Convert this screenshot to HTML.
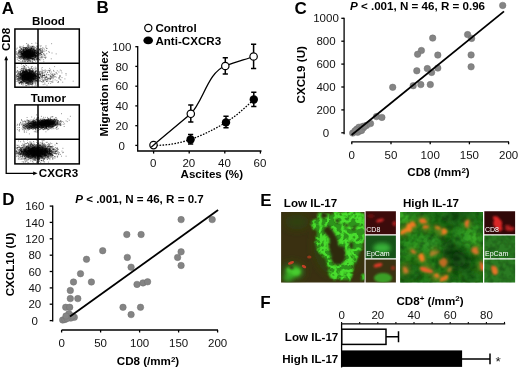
<!DOCTYPE html>
<html><head><meta charset="utf-8"><title>Figure</title>
<style>
html,body{margin:0;padding:0;background:#fff;}
body{width:520px;height:370px;overflow:hidden;}
svg{display:block;font-family:"Liberation Sans",sans-serif;}
text{opacity:.999}
.b{font-weight:bold}
.t{font-size:11.5px;fill:#111}
.l{font-size:11.6px;font-weight:bold;fill:#000}
.p{font-size:17px;font-weight:bold;fill:#000}
.ax{stroke:#000;stroke-width:1.3;fill:none}
.d{fill:#848484;stroke:#707070;stroke-width:.5}
</style></head><body>
<svg width="520" height="370" viewBox="0 0 520 370">
<rect width="520" height="370" fill="#fff"/>

<g id="panelA">
<text class="p" x="1.8" y="13.6">A</text>
<text class="l" x="48.5" y="24.7" text-anchor="middle">Blood</text>
<text class="l" x="48.3" y="102.2" text-anchor="middle">Tumor</text>
<text class="l" transform="translate(9.7,51) rotate(-90)">CD8</text>
<text class="l" x="38.8" y="177.4">CXCR3</text>
<defs><filter id="db" x="-5%" y="-5%" width="110%" height="110%"><feGaussianBlur stdDeviation="0.35"/></filter><radialGradient id="gb"><stop offset="0" stop-color="#000" stop-opacity="1"/><stop offset="0.45" stop-color="#000" stop-opacity="0.85"/><stop offset="0.75" stop-color="#000" stop-opacity="0.3"/><stop offset="1" stop-color="#000" stop-opacity="0"/></radialGradient></defs>
<ellipse cx="28.2" cy="53.9" rx="10.0" ry="6.6" transform="rotate(0.0 28.2 53.9)" fill="url(#gb)" opacity="0.85"/>
<ellipse cx="27.6" cy="76.4" rx="10.5" ry="7.6" transform="rotate(0.0 27.6 76.4)" fill="url(#gb)" opacity="0.90"/>
<path transform="scale(.1)" d="M271 554h0M272 530h0M241 533h0M331 552h0M328 546h0M299 545h0M209 565h0M304 554h0M208 487h0M243 525h0M295 538h0M305 520h0M296 551h0M253 591h0M306 575h0M255 517h0M267 536h0M310 546h0M262 510h0M259 576h0M246 546h0M301 494h0M284 578h0M193 529h0M277 514h0M304 537h0M218 564h0M311 567h0M345 550h0M287 500h0M309 521h0M262 501h0M239 523h0M339 478h0M218 546h0M346 556h0M198 463h0M298 517h0M233 568h0M330 544h0M293 552h0M352 558h0M305 555h0M213 577h0M324 555h0M195 520h0M319 485h0M274 570h0M224 587h0M306 534h0M296 558h0M287 573h0M253 527h0M328 540h0M243 567h0M346 526h0M221 535h0M275 530h0M344 508h0M337 501h0M247 558h0M332 565h0M297 543h0M289 556h0M274 547h0M307 539h0M316 556h0M370 549h0M263 528h0M281 567h0M267 551h0M363 462h0M233 546h0M300 546h0M263 559h0M294 523h0M389 550h0M258 536h0M272 537h0M162 524h0M326 504h0M279 568h0M320 584h0M207 528h0M267 558h0M330 459h0M330 496h0M312 494h0M290 575h0M275 545h0M317 543h0M278 585h0M328 530h0M403 505h0M322 531h0M288 560h0M292 558h0M215 494h0M309 510h0M237 495h0M338 561h0M347 511h0M282 505h0M316 587h0M243 586h0M325 534h0M195 581h0M278 521h0M300 551h0M348 508h0M332 584h0M346 534h0M249 570h0M287 543h0M345 531h0M181 527h0M200 564h0M296 521h0M282 564h0M285 579h0M279 570h0M348 587h0M252 565h0M199 506h0M196 571h0M228 539h0M274 538h0M256 546h0M361 540h0M305 569h0M273 501h0M258 571h0M210 521h0M326 563h0M282 563h0M289 504h0M213 520h0M323 522h0M242 516h0M215 535h0M230 550h0M178 549h0M254 481h0M314 531h0M184 513h0M295 525h0M316 561h0M311 549h0M341 559h0M302 476h0M321 578h0M269 525h0M367 486h0M303 612h0M241 560h0M365 535h0M307 566h0M242 536h0M295 564h0M280 533h0M237 528h0M321 542h0M244 514h0M399 573h0M310 461h0M309 553h0M356 552h0M279 555h0M196 570h0M296 518h0M340 593h0M220 519h0M295 545h0M264 510h0M375 570h0M229 499h0M357 569h0M362 563h0M244 547h0M187 517h0M279 555h0M250 535h0M302 550h0M310 545h0M268 563h0M284 514h0M254 539h0M277 544h0M282 544h0M276 501h0M301 571h0M301 533h0M302 510h0M199 541h0M241 561h0M234 460h0M236 586h0M265 498h0M248 555h0M304 544h0M347 560h0M281 557h0M355 568h0M327 507h0M275 561h0M269 571h0M308 566h0M273 615h0M337 533h0M286 617h0M267 565h0M325 539h0M231 545h0M298 573h0M316 540h0M320 555h0M291 541h0M271 560h0M236 520h0M282 495h0M263 479h0M252 556h0M307 537h0M272 496h0M362 554h0M330 513h0M274 484h0M316 567h0M199 537h0M310 486h0M202 507h0M254 497h0M283 546h0M310 560h0M348 574h0M224 524h0M235 507h0M278 539h0M304 491h0M228 538h0M273 530h0M279 516h0M313 550h0M278 519h0M274 457h0M239 540h0M216 545h0M288 498h0M271 530h0M302 557h0M280 513h0M276 537h0M314 548h0M250 498h0M266 517h0M233 536h0M260 542h0M305 527h0M384 529h0M330 543h0M331 468h0M249 546h0M309 609h0M296 577h0M316 567h0M304 534h0M304 507h0M334 508h0M293 603h0M272 540h0M333 540h0M246 547h0M308 560h0M248 592h0M355 540h0M294 526h0M344 518h0M312 525h0M251 561h0M341 539h0M252 563h0M280 548h0M349 573h0M259 608h0M282 563h0M254 538h0M205 593h0M342 503h0M216 490h0M334 525h0M279 530h0M277 506h0M283 496h0M279 548h0M303 532h0M242 544h0M261 586h0M316 536h0M261 518h0M241 528h0M295 554h0M307 602h0M251 539h0M405 483h0M259 544h0M289 551h0M271 550h0M284 562h0M199 512h0M282 508h0M236 558h0M253 558h0M315 548h0M304 536h0M220 538h0M302 523h0M278 561h0M243 558h0M364 522h0M288 534h0M350 548h0M322 518h0M281 539h0M204 582h0M322 487h0M315 535h0M302 550h0M216 533h0M348 522h0M237 498h0M228 549h0M356 552h0M293 606h0M259 519h0M305 555h0M237 504h0M295 546h0M224 533h0M258 553h0M277 536h0M266 571h0M343 528h0M319 516h0M285 561h0M349 528h0M279 545h0M216 539h0M252 550h0M232 480h0M284 547h0M258 566h0M270 521h0M303 492h0M252 538h0M319 534h0M296 519h0M295 589h0M252 610h0M254 540h0M290 570h0M228 476h0M309 563h0M309 618h0M291 547h0M323 550h0M355 502h0M265 436h0M318 528h0M323 604h0M282 531h0M260 514h0M254 558h0M284 541h0M274 566h0M304 535h0M311 534h0M231 583h0M302 510h0M329 549h0M213 587h0M297 566h0M291 535h0M214 568h0M283 530h0M297 541h0M312 528h0M280 475h0M263 559h0M341 528h0M277 587h0M268 561h0M356 540h0M336 518h0M291 537h0M287 573h0M387 519h0M257 554h0M236 554h0M307 531h0M305 493h0M315 493h0M251 522h0M264 565h0M286 527h0M306 586h0M282 550h0M337 547h0M226 614h0M379 479h0M280 552h0M324 559h0M270 507h0M287 570h0M234 508h0M281 481h0M271 526h0M302 518h0M243 527h0M280 519h0M283 562h0M334 590h0M248 526h0M173 596h0M250 538h0M305 498h0M302 538h0M202 548h0M335 483h0M318 545h0M303 552h0M339 532h0M320 527h0M314 515h0M277 591h0M302 534h0M232 515h0M291 567h0M301 555h0M280 580h0M265 523h0M321 541h0M270 522h0M271 558h0M298 503h0M301 544h0M238 562h0M270 529h0M317 579h0M252 552h0M243 608h0M260 575h0M254 563h0M380 463h0M263 554h0M278 519h0M377 541h0M210 565h0M206 574h0M257 543h0M337 543h0M221 488h0M334 561h0M246 565h0M304 558h0M183 530h0M322 561h0M321 465h0M289 554h0M394 510h0M268 540h0M321 526h0M332 515h0M294 523h0M289 518h0M212 572h0M295 522h0M291 569h0M239 536h0M306 555h0M267 476h0M337 549h0M283 531h0M294 526h0M237 517h0M256 521h0M231 558h0M224 559h0M237 550h0M342 545h0M250 540h0M289 487h0M255 544h0M261 541h0M314 562h0M322 557h0M269 538h0M270 530h0M274 487h0M267 538h0M239 538h0M305 534h0M373 461h0M273 484h0M325 619h0M172 543h0M305 530h0M306 472h0M319 550h0M283 521h0M310 524h0M292 524h0M183 538h0M291 562h0M243 538h0M309 543h0M337 599h0M242 481h0M320 585h0M323 563h0M255 518h0M321 512h0M202 509h0M392 597h0M252 517h0M292 517h0M340 537h0M234 578h0M256 546h0M281 530h0M296 518h0M201 473h0M226 516h0M281 541h0M306 543h0M247 518h0M189 534h0M303 555h0M277 534h0M323 539h0M314 556h0M291 578h0M257 528h0M246 515h0M350 592h0M283 556h0M334 563h0M335 501h0M254 553h0M345 542h0M244 528h0M253 513h0M348 520h0M283 604h0M334 549h0M255 551h0M353 558h0M338 542h0M305 533h0M301 578h0M219 537h0M293 522h0M268 563h0M370 558h0M296 492h0M367 541h0M281 505h0M279 506h0M285 553h0M283 547h0M245 582h0M253 484h0M274 516h0M238 528h0M295 504h0M276 582h0M312 534h0M288 535h0M280 561h0M278 467h0M281 512h0M311 521h0M289 604h0M236 505h0M220 467h0M199 550h0M254 483h0M217 558h0M248 528h0M297 580h0M367 570h0M288 545h0M361 582h0M268 553h0M295 541h0M260 499h0M259 493h0M336 555h0M229 581h0M321 482h0M363 563h0M373 502h0M305 552h0M291 544h0M328 494h0M227 497h0M257 521h0M298 547h0M283 519h0M263 568h0M316 542h0M268 586h0M256 558h0M333 531h0M318 506h0M327 545h0M212 559h0M243 577h0M252 534h0M294 529h0M293 522h0M312 539h0M291 456h0M333 540h0M204 542h0M303 571h0M234 585h0M275 611h0M276 559h0M266 506h0M330 566h0M350 565h0M257 489h0M253 519h0M246 556h0M296 531h0M290 535h0M291 562h0M324 518h0M216 582h0M287 572h0M210 529h0M283 496h0M259 561h0M329 587h0M244 497h0M305 567h0M290 500h0M316 563h0M306 524h0M295 563h0M257 484h0M296 553h0M283 566h0M256 537h0M269 556h0M352 531h0M372 585h0M317 557h0M360 534h0M277 507h0M303 579h0M305 552h0M273 544h0M219 570h0M264 506h0M249 514h0M320 571h0M222 567h0M321 522h0M217 517h0M254 549h0M266 478h0M292 493h0M322 503h0M252 513h0M258 578h0M319 557h0M296 493h0M259 522h0M239 554h0M249 518h0M236 477h0M308 579h0M290 510h0M163 544h0M336 548h0M323 583h0M332 526h0M328 562h0M214 527h0M219 536h0M307 507h0M192 578h0M299 583h0M224 571h0M373 599h0M273 547h0M275 569h0M328 542h0M222 561h0M261 558h0M294 588h0M332 525h0M297 592h0M258 552h0M334 577h0M305 499h0M227 546h0M299 615h0M244 573h0M316 489h0M246 544h0M260 534h0M303 515h0M303 520h0M258 555h0M257 548h0M352 540h0M276 561h0M266 571h0M226 558h0M259 515h0M360 513h0M359 559h0M346 510h0M335 583h0M277 535h0M390 544h0M263 520h0M302 549h0M290 591h0M268 553h0M346 509h0M328 594h0M222 506h0M236 484h0M302 483h0M304 583h0M211 530h0M198 562h0M250 531h0M284 555h0M267 539h0M258 542h0M230 541h0M197 524h0M366 541h0M227 547h0M239 489h0M250 561h0M299 536h0M241 507h0M341 546h0M240 476h0M222 613h0M231 537h0M291 534h0M270 498h0M236 590h0M249 564h0M207 531h0M293 570h0M233 557h0M299 517h0M303 512h0M247 538h0M163 536h0M238 495h0M263 562h0M264 577h0M231 500h0M350 551h0M324 514h0M317 547h0M311 540h0M335 520h0M240 495h0M333 517h0M236 511h0M262 501h0M269 520h0M258 510h0M284 525h0M287 546h0M297 473h0M258 515h0M316 492h0M251 530h0M267 569h0M263 568h0M218 485h0M336 552h0M303 543h0M303 503h0M324 523h0M325 542h0M195 500h0M332 535h0M265 546h0M263 523h0M287 543h0M349 540h0M365 593h0M358 571h0M288 543h0M276 517h0M279 520h0M354 555h0M262 482h0M280 527h0M234 505h0M183 556h0M279 616h0M281 535h0M346 543h0M289 528h0M255 584h0M326 590h0M267 540h0M243 568h0M221 556h0M330 581h0M241 572h0M251 516h0M224 574h0M355 521h0M249 529h0M392 569h0M258 485h0M252 575h0M364 531h0M252 524h0M199 566h0M234 571h0M207 501h0M295 516h0M316 539h0M230 558h0M319 482h0M362 554h0M315 483h0M250 529h0M329 495h0M243 478h0M271 549h0M208 521h0M304 587h0M311 530h0M230 511h0M253 543h0M280 589h0M295 507h0M350 567h0M286 517h0M200 508h0M322 515h0M224 545h0M293 557h0M311 581h0M245 568h0M239 560h0M290 546h0M325 538h0M331 565h0M288 522h0M249 523h0M273 538h0M413 558h0M316 513h0M251 529h0M290 508h0M353 522h0M329 469h0M282 547h0M290 557h0M294 544h0M199 518h0M179 558h0M296 533h0M246 522h0M363 591h0M279 578h0M212 481h0M261 513h0M257 545h0M415 519h0M284 547h0M280 567h0M360 502h0M289 531h0M298 493h0M205 470h0M305 545h0M285 468h0M266 516h0M220 512h0M313 555h0M281 554h0M255 541h0M284 556h0M279 535h0M276 520h0M380 554h0M301 608h0M344 492h0M313 564h0M365 578h0M316 504h0M244 547h0M304 508h0M265 527h0M285 549h0M269 502h0M337 587h0M277 570h0M302 559h0M303 516h0M307 569h0M243 598h0M374 594h0M370 561h0M267 521h0M246 542h0M281 559h0M193 608h0M382 538h0M312 553h0M294 533h0M277 514h0M290 538h0M296 513h0M284 540h0M309 507h0M300 568h0M308 528h0M260 532h0M314 586h0M275 520h0M299 545h0M242 517h0M278 559h0M230 508h0M304 502h0M287 550h0M277 508h0M279 529h0M297 514h0M330 489h0M274 539h0M324 521h0M306 522h0M314 591h0M264 552h0M241 568h0M335 540h0M232 551h0M333 572h0M318 484h0M252 582h0M228 573h0M365 562h0M331 529h0M228 536h0M273 538h0M313 535h0M290 552h0M282 594h0M301 542h0M273 520h0M341 544h0M235 522h0M276 526h0M330 504h0M304 543h0M230 540h0M278 554h0M262 548h0M209 506h0M317 570h0M281 521h0M330 476h0M247 559h0M311 508h0M199 583h0M289 512h0M284 566h0M168 572h0M315 477h0M316 486h0M332 551h0M381 521h0M282 570h0M254 518h0M266 537h0M234 554h0M306 541h0M357 529h0M339 523h0M315 481h0M291 534h0M265 516h0M274 512h0M163 516h0M262 519h0M232 534h0M342 529h0M265 591h0M354 574h0M364 527h0M287 581h0M262 534h0M318 553h0M278 576h0M284 567h0M359 564h0M339 495h0M216 515h0M324 596h0M222 551h0M244 511h0M278 565h0M308 584h0M236 573h0M351 542h0M324 518h0M230 524h0M256 649h0M266 602h0M307 551h0M340 509h0M350 553h0M204 562h0M328 556h0M390 523h0M326 567h0M241 585h0M208 490h0M326 498h0M288 476h0M299 496h0M316 481h0M322 529h0M299 536h0M303 489h0M239 522h0M321 464h0M249 516h0M232 551h0M287 508h0M236 570h0M255 561h0M322 467h0M230 539h0M316 569h0M343 578h0M273 531h0M342 523h0M358 479h0M334 532h0M177 576h0M314 540h0M230 521h0M386 508h0M223 534h0M271 504h0M244 579h0M208 613h0M262 497h0M342 560h0M232 567h0M185 504h0M363 529h0M217 559h0M350 538h0M187 526h0M320 568h0M406 529h0M266 538h0M367 503h0M373 435h0M343 513h0M323 565h0M224 536h0M309 561h0M239 501h0M180 635h0M283 531h0M205 574h0M263 594h0M346 540h0M339 497h0M275 517h0M219 540h0M286 594h0M240 521h0M320 554h0M297 521h0M325 553h0M184 529h0M213 494h0M304 541h0M302 506h0M283 504h0M318 565h0M400 587h0M247 522h0M239 551h0M414 566h0M163 491h0M217 559h0M295 550h0M402 508h0M244 614h0M316 509h0M173 481h0M298 577h0M287 513h0M251 611h0M189 546h0M297 562h0M271 558h0M344 533h0M268 532h0M237 531h0M277 547h0M375 589h0M268 562h0M313 568h0M296 549h0M267 509h0M347 588h0M335 556h0M311 522h0M188 564h0M307 518h0M237 588h0M187 606h0M333 629h0M252 538h0M265 545h0M282 511h0M359 509h0M265 560h0M263 522h0M316 525h0M220 535h0M282 604h0M229 576h0M248 525h0M275 549h0M347 605h0M257 590h0M355 570h0M249 573h0M289 552h0M279 564h0M362 582h0M283 577h0M382 503h0M383 488h0M328 562h0M384 550h0M266 509h0M220 568h0M281 512h0M327 510h0M269 522h0M394 595h0M286 479h0M312 542h0M316 560h0M276 574h0M345 547h0M271 521h0M337 497h0M285 511h0M211 562h0M293 540h0M347 482h0M291 550h0M345 498h0M338 547h0M376 582h0M328 621h0M295 523h0M275 503h0M293 468h0M290 555h0M354 526h0M378 514h0M287 468h0M249 509h0M383 559h0M230 559h0M323 530h0M296 528h0M263 473h0M290 587h0M379 529h0M251 531h0M348 552h0M261 552h0M283 558h0M271 484h0M298 567h0M230 535h0M346 525h0M257 614h0M344 577h0M240 599h0M198 520h0M338 588h0M241 514h0M306 468h0M332 560h0M269 559h0M340 550h0M325 595h0M267 545h0M265 577h0M271 556h0M303 541h0M395 536h0M377 569h0M372 533h0M349 567h0M259 549h0M288 538h0M371 513h0M197 475h0M269 515h0M296 560h0M397 550h0M322 512h0M329 589h0M373 467h0M347 597h0M343 484h0M277 561h0M319 509h0M244 574h0M218 591h0M296 550h0M218 517h0M335 485h0M415 488h0M224 541h0M323 566h0M274 531h0M281 518h0M309 545h0M259 548h0M294 536h0M359 476h0M310 500h0M277 594h0M233 535h0M261 574h0M239 478h0M325 526h0M277 578h0M244 525h0M304 554h0M265 577h0M424 524h0M403 462h0M376 526h0M303 527h0M258 492h0M272 586h0M361 526h0M265 513h0M226 605h0M333 543h0M267 502h0M371 567h0M240 575h0M231 562h0M240 524h0M324 555h0M353 508h0M386 588h0M294 556h0M250 533h0M219 542h0M306 588h0M350 569h0M274 531h0M275 547h0M184 567h0M205 520h0M296 520h0M391 535h0M386 582h0M266 554h0M370 527h0M300 519h0M298 526h0M300 576h0M375 544h0M307 570h0M278 500h0M359 505h0M349 504h0M400 501h0M344 594h0M240 593h0M248 475h0M337 565h0M283 447h0M292 528h0M273 528h0M192 518h0M399 595h0M274 513h0M318 578h0M337 496h0M304 544h0M378 583h0M325 583h0M272 595h0M270 553h0M348 506h0M255 475h0M304 537h0M276 557h0M173 538h0M300 529h0M341 603h0M269 505h0M260 542h0M329 508h0M353 502h0M343 555h0M322 618h0M280 533h0M322 570h0M218 549h0M252 562h0M374 541h0M289 546h0M327 545h0M272 512h0M285 583h0M289 588h0M311 539h0M199 515h0M367 492h0M238 499h0M263 562h0M329 465h0M379 517h0M261 600h0M290 494h0M258 512h0M237 527h0M346 552h0M215 641h0M238 543h0M297 567h0M276 556h0M416 542h0M233 551h0M249 526h0M306 551h0M279 570h0M284 491h0M346 526h0M365 515h0M328 550h0M231 590h0M186 572h0M358 557h0M334 521h0M294 547h0M319 565h0M283 513h0M263 554h0M199 493h0M271 519h0M279 442h0M275 530h0M340 467h0M277 556h0M323 583h0M356 501h0M332 527h0M249 595h0M259 508h0M271 508h0M353 553h0M376 554h0M260 577h0M257 522h0M285 540h0M364 517h0M315 538h0M222 499h0M282 554h0M314 557h0M298 523h0M320 502h0M217 527h0M212 520h0M252 519h0M292 510h0M271 476h0M303 507h0M318 435h0M249 548h0M300 543h0M208 547h0M304 503h0M338 537h0M296 523h0M327 543h0M361 556h0M259 531h0M348 526h0M317 558h0M285 454h0M303 547h0M303 511h0M365 534h0M259 513h0M316 499h0M237 612h0M371 578h0M374 561h0M197 583h0M367 557h0M181 585h0M374 521h0M302 568h0M290 579h0M300 564h0M300 485h0M237 656h0M311 587h0M361 602h0M327 517h0M411 458h0M401 557h0M305 532h0M450 571h0M365 502h0M319 489h0M436 597h0M354 573h0M431 508h0M516 437h0M407 533h0M513 588h0M520 530h0M458 573h0M435 538h0M401 511h0M350 593h0M388 452h0M423 524h0M419 589h0M405 516h0M374 524h0M389 532h0M562 539h0M368 593h0M452 554h0M445 554h0M443 574h0M459 572h0M386 525h0M375 559h0M450 509h0M438 617h0M470 486h0M406 547h0M408 539h0M467 537h0M357 550h0M405 529h0M382 477h0M349 513h0M358 430h0M466 484h0M375 544h0M293 572h0M373 548h0M387 536h0M415 525h0M321 473h0M408 574h0M383 544h0M418 542h0M458 472h0M423 519h0M395 495h0M372 489h0M357 613h0M493 525h0M446 491h0M274 461h0M417 575h0M408 490h0M398 490h0M342 517h0M391 497h0M367 492h0M422 574h0M400 603h0M331 535h0M354 519h0M415 545h0M465 506h0M349 518h0M424 500h0M454 584h0M341 538h0M460 458h0M420 517h0M341 571h0M421 508h0M432 548h0M447 545h0M430 484h0M389 530h0M275 600h0M392 488h0M321 534h0M412 505h0M390 494h0M373 522h0M379 549h0M403 530h0M430 570h0M439 533h0M402 497h0M393 549h0M421 511h0M345 471h0M426 561h0M428 477h0M400 533h0M365 537h0M400 496h0M349 553h0M427 494h0M361 556h0M439 514h0M488 515h0M359 563h0M401 537h0M278 731h0M223 758h0M339 731h0M337 771h0M226 773h0M301 734h0M181 776h0M226 779h0M190 759h0M240 715h0M265 770h0M251 725h0M286 706h0M300 780h0M351 793h0M292 773h0M277 720h0M341 781h0M263 726h0M342 782h0M223 786h0M361 763h0M294 750h0M248 799h0M414 768h0M270 790h0M262 788h0M313 730h0M228 762h0M313 773h0M331 719h0M298 743h0M280 775h0M233 756h0M224 773h0M238 748h0M286 742h0M327 743h0M314 773h0M230 757h0M239 752h0M264 824h0M257 816h0M296 721h0M173 786h0M187 788h0M322 777h0M267 756h0M288 754h0M252 752h0M328 744h0M293 726h0M244 719h0M267 786h0M290 748h0M303 753h0M293 773h0M300 682h0M218 789h0M271 838h0M266 746h0M343 782h0M360 781h0M267 788h0M241 749h0M251 757h0M311 748h0M290 748h0M315 673h0M267 770h0M228 797h0M286 806h0M319 785h0M269 728h0M266 749h0M287 749h0M412 711h0M328 749h0M265 794h0M276 724h0M294 758h0M185 771h0M229 740h0M297 774h0M263 835h0M295 744h0M287 760h0M178 712h0M214 832h0M268 755h0M251 796h0M277 820h0M311 818h0M271 776h0M257 758h0M199 745h0M234 743h0M330 773h0M330 792h0M317 797h0M249 790h0M262 747h0M329 835h0M233 821h0M313 736h0M288 776h0M293 752h0M219 765h0M314 790h0M305 800h0M232 763h0M291 797h0M283 781h0M282 833h0M179 763h0M386 772h0M195 768h0M212 742h0M286 820h0M297 786h0M321 771h0M238 761h0M291 755h0M246 752h0M209 730h0M272 752h0M278 810h0M289 763h0M224 729h0M293 735h0M295 729h0M282 762h0M320 751h0M260 772h0M278 819h0M265 746h0M262 780h0M286 787h0M215 845h0M357 763h0M222 769h0M294 691h0M277 716h0M296 809h0M322 715h0M337 794h0M260 780h0M343 753h0M275 746h0M327 694h0M339 732h0M317 711h0M235 744h0M313 711h0M303 743h0M331 754h0M298 758h0M355 752h0M275 829h0M279 786h0M243 771h0M176 767h0M247 715h0M213 801h0M295 714h0M356 741h0M260 772h0M226 711h0M243 803h0M318 712h0M329 765h0M298 766h0M294 731h0M236 741h0M260 784h0M222 816h0M248 745h0M307 778h0M261 729h0M232 712h0M327 799h0M359 780h0M291 789h0M318 756h0M292 834h0M201 718h0M233 789h0M329 753h0M306 762h0M289 746h0M275 764h0M326 837h0M196 781h0M276 796h0M323 790h0M312 733h0M200 819h0M330 733h0M333 786h0M167 793h0M232 802h0M246 740h0M208 757h0M321 742h0M194 834h0M358 787h0M252 724h0M203 782h0M334 729h0M276 755h0M265 780h0M369 743h0M314 800h0M263 759h0M217 799h0M252 743h0M279 736h0M230 754h0M342 757h0M299 716h0M190 824h0M258 714h0M271 784h0M199 735h0M288 734h0M311 796h0M296 750h0M274 743h0M270 774h0M263 796h0M391 746h0M291 791h0M305 756h0M255 797h0M304 781h0M240 785h0M311 758h0M305 835h0M193 784h0M224 719h0M266 782h0M278 726h0M212 746h0M277 737h0M209 822h0M239 759h0M252 745h0M278 754h0M304 725h0M210 828h0M273 789h0M329 782h0M278 713h0M205 796h0M306 783h0M202 694h0M229 725h0M283 730h0M347 743h0M251 792h0M291 734h0M313 827h0M221 756h0M228 700h0M304 787h0M319 778h0M186 763h0M246 725h0M227 789h0M263 829h0M297 701h0M316 805h0M277 724h0M355 721h0M272 701h0M220 708h0M325 803h0M258 719h0M273 777h0M208 726h0M271 787h0M279 779h0M220 682h0M290 734h0M270 751h0M298 738h0M341 765h0M300 785h0M323 777h0M197 743h0M360 780h0M301 780h0M247 741h0M247 802h0M292 823h0M298 827h0M297 725h0M354 775h0M330 771h0M261 770h0M225 724h0M236 747h0M215 761h0M290 832h0M359 762h0M316 757h0M294 763h0M252 767h0M209 779h0M263 728h0M260 783h0M245 780h0M302 816h0M227 760h0M299 814h0M288 789h0M210 744h0M351 754h0M374 740h0M263 711h0M305 773h0M368 770h0M265 717h0M272 796h0M310 805h0M315 762h0M303 770h0M216 821h0M293 729h0M294 774h0M321 813h0M346 732h0M191 773h0M291 776h0M226 748h0M285 789h0M376 774h0M249 685h0M325 760h0M271 731h0M309 704h0M281 768h0M290 808h0M271 767h0M315 712h0M263 766h0M320 737h0M313 777h0M208 714h0M211 769h0M285 788h0M313 745h0M325 792h0M298 780h0M217 776h0M229 724h0M260 769h0M274 753h0M230 770h0M242 716h0M280 813h0M257 728h0M339 822h0M263 757h0M282 798h0M296 702h0M226 722h0M296 768h0M358 755h0M290 767h0M282 842h0M289 814h0M335 743h0M307 751h0M281 769h0M277 748h0M347 755h0M308 821h0M305 799h0M340 801h0M355 716h0M366 765h0M196 742h0M212 763h0M208 730h0M290 769h0M239 756h0M271 767h0M276 756h0M316 710h0M253 769h0M258 745h0M256 771h0M333 758h0M264 776h0M265 698h0M288 751h0M250 785h0M278 745h0M176 706h0M277 760h0M296 772h0M254 721h0M226 759h0M223 790h0M215 703h0M267 704h0M351 730h0M274 756h0M238 704h0M190 793h0M323 838h0M209 783h0M275 793h0M252 789h0M317 785h0M343 758h0M347 740h0M353 671h0M277 737h0M276 799h0M309 767h0M354 714h0M239 815h0M291 693h0M292 724h0M344 803h0M251 808h0M238 795h0M303 760h0M211 754h0M171 745h0M191 805h0M232 681h0M303 777h0M253 836h0M312 766h0M246 664h0M298 797h0M249 716h0M274 707h0M276 790h0M345 773h0M285 789h0M340 753h0M220 737h0M218 734h0M270 776h0M283 766h0M260 778h0M317 790h0M345 754h0M264 822h0M285 778h0M261 797h0M257 730h0M273 749h0M314 751h0M282 757h0M292 743h0M327 716h0M258 740h0M306 765h0M298 753h0M243 726h0M261 746h0M289 776h0M321 760h0M242 728h0M279 776h0M366 770h0M357 828h0M228 805h0M328 810h0M276 796h0M254 762h0M277 825h0M266 796h0M279 740h0M287 786h0M243 786h0M243 734h0M286 756h0M231 709h0M277 772h0M255 770h0M206 777h0M295 773h0M248 767h0M282 800h0M289 773h0M243 793h0M330 747h0M305 774h0M274 720h0M357 701h0M290 751h0M329 750h0M278 785h0M297 746h0M307 777h0M321 747h0M274 751h0M238 773h0M295 812h0M261 777h0M328 760h0M279 769h0M244 730h0M327 770h0M273 722h0M281 804h0M223 734h0M327 812h0M347 745h0M304 739h0M300 752h0M285 809h0M292 756h0M279 773h0M253 771h0M303 817h0M182 724h0M219 794h0M388 771h0M282 802h0M164 758h0M253 748h0M292 744h0M327 764h0M293 850h0M256 795h0M238 806h0M320 769h0M321 818h0M339 764h0M274 801h0M209 744h0M298 783h0M361 823h0M291 779h0M216 758h0M288 756h0M279 784h0M233 745h0M195 803h0M228 707h0M311 757h0M320 752h0M373 788h0M283 768h0M267 791h0M367 750h0M226 784h0M325 714h0M245 731h0M302 781h0M243 726h0M307 695h0M305 759h0M363 797h0M250 755h0M263 740h0M280 796h0M208 756h0M344 789h0M239 737h0M237 710h0M328 766h0M244 716h0M259 747h0M354 749h0M281 800h0M306 758h0M177 811h0M303 749h0M272 732h0M235 714h0M299 781h0M284 790h0M300 768h0M236 784h0M330 785h0M332 748h0M232 806h0M250 772h0M267 765h0M264 746h0M195 828h0M285 700h0M235 726h0M243 679h0M302 819h0M265 789h0M303 722h0M331 708h0M250 752h0M333 768h0M270 737h0M280 765h0M309 810h0M309 765h0M269 817h0M285 763h0M357 816h0M302 760h0M247 800h0M256 796h0M241 767h0M294 769h0M287 777h0M225 727h0M269 824h0M270 733h0M246 765h0M329 745h0M301 770h0M260 733h0M269 740h0M300 705h0M327 789h0M302 814h0M303 707h0M278 779h0M245 726h0M295 781h0M257 756h0M253 745h0M273 800h0M204 753h0M348 775h0M283 792h0M231 724h0M202 716h0M287 792h0M257 741h0M294 784h0M288 701h0M252 680h0M287 736h0M247 814h0M335 780h0M288 770h0M250 762h0M362 735h0M246 769h0M316 792h0M233 760h0M264 723h0M279 748h0M317 778h0M241 767h0M260 743h0M254 799h0M258 707h0M241 791h0M372 729h0M260 753h0M213 777h0M274 773h0M376 755h0M312 792h0M248 744h0M346 788h0M282 728h0M316 781h0M374 813h0M312 773h0M279 746h0M290 772h0M305 800h0M290 746h0M312 815h0M239 778h0M301 782h0M299 761h0M271 820h0M353 718h0M163 778h0M246 747h0M205 776h0M274 746h0M316 844h0M342 803h0M258 786h0M274 802h0M302 763h0M301 740h0M311 814h0M260 782h0M202 795h0M315 730h0M354 768h0M199 719h0M315 755h0M325 713h0M272 796h0M246 786h0M260 775h0M290 838h0M221 790h0M335 727h0M280 840h0M323 666h0M265 708h0M290 740h0M251 736h0M289 749h0M236 757h0M294 736h0M326 709h0M294 751h0M346 743h0M246 720h0M365 784h0M228 753h0M233 814h0M295 697h0M285 794h0M276 780h0M271 771h0M286 741h0M292 769h0M274 741h0M231 772h0M313 684h0M252 809h0M317 740h0M336 731h0M241 828h0M257 757h0M202 731h0M223 759h0M194 799h0M260 744h0M248 789h0M345 751h0M348 817h0M336 774h0M209 786h0M258 770h0M192 755h0M286 733h0M289 819h0M286 741h0M383 693h0M235 778h0M250 688h0M288 792h0M240 813h0M298 803h0M208 764h0M348 831h0M335 764h0M284 743h0M325 741h0M282 696h0M209 823h0M279 771h0M178 763h0M369 714h0M169 759h0M252 757h0M220 719h0M221 785h0M274 791h0M228 784h0M256 767h0M318 765h0M260 709h0M279 790h0M248 762h0M196 720h0M294 807h0M262 708h0M259 712h0M264 828h0M289 759h0M323 751h0M291 771h0M296 715h0M308 793h0M173 674h0M236 814h0M277 787h0M301 794h0M247 744h0M293 784h0M302 775h0M254 801h0M297 800h0M161 798h0M166 771h0M246 768h0M254 754h0M285 776h0M240 679h0M241 782h0M238 778h0M259 732h0M329 820h0M271 762h0M319 719h0M236 802h0M317 747h0M241 776h0M212 747h0M265 681h0M303 790h0M324 716h0M218 737h0M217 833h0M232 753h0M285 779h0M342 727h0M316 769h0M223 769h0M212 819h0M243 798h0M335 743h0M235 768h0M228 794h0M284 738h0M245 788h0M210 821h0M240 757h0M234 819h0M314 808h0M306 767h0M354 786h0M296 784h0M310 773h0M268 710h0M370 720h0M177 740h0M365 805h0M248 773h0M275 697h0M261 774h0M330 723h0M173 711h0M291 767h0M283 769h0M259 718h0M297 777h0M303 806h0M219 685h0M194 837h0M234 778h0M275 789h0M424 746h0M268 744h0M287 782h0M231 809h0M329 779h0M271 756h0M200 786h0M231 747h0M322 733h0M252 793h0M361 741h0M327 742h0M294 780h0M224 799h0M359 766h0M288 724h0M358 766h0M217 790h0M209 741h0M178 811h0M378 742h0M246 744h0M250 783h0M343 730h0M296 703h0M346 761h0M244 816h0M271 811h0M325 820h0M239 766h0M293 757h0M346 740h0M322 810h0M186 731h0M234 745h0M294 758h0M280 748h0M272 780h0M310 737h0M271 738h0M268 715h0M320 787h0M270 741h0M255 741h0M205 820h0M427 722h0M222 784h0M304 711h0M188 782h0M184 812h0M253 767h0M276 745h0M269 754h0M333 761h0M275 746h0M247 739h0M276 826h0M327 772h0M353 798h0M286 758h0M226 772h0M261 710h0M217 830h0M286 781h0M285 748h0M297 801h0M262 781h0M323 748h0M284 739h0M304 751h0M329 738h0M354 753h0M237 733h0M306 735h0M359 808h0M300 716h0M275 739h0M193 778h0M377 746h0M313 808h0M232 752h0M288 780h0M223 771h0M271 796h0M203 745h0M253 753h0M309 743h0M402 740h0M315 799h0M320 757h0M238 755h0M307 768h0M303 784h0M235 732h0M342 747h0M203 827h0M238 732h0M321 726h0M236 800h0M238 849h0M280 855h0M282 766h0M247 756h0M253 763h0M312 721h0M234 693h0M345 761h0M275 762h0M322 775h0M315 758h0M270 762h0M190 801h0M203 730h0M307 766h0M313 822h0M362 811h0M266 834h0M236 761h0M322 757h0M270 752h0M339 680h0M335 800h0M273 783h0M231 802h0M417 733h0M340 762h0M260 747h0M267 721h0M214 821h0M275 783h0M290 780h0M206 732h0M305 798h0M223 744h0M227 786h0M292 765h0M246 776h0M277 739h0M291 741h0M320 785h0M244 784h0M279 740h0M234 707h0M224 776h0M332 743h0M283 776h0M312 779h0M332 790h0M241 777h0M168 758h0M277 784h0M262 792h0M337 735h0M251 773h0M299 769h0M314 724h0M312 804h0M327 779h0M265 778h0M273 710h0M248 763h0M252 732h0M265 751h0M279 762h0M284 798h0M282 778h0M220 664h0M258 787h0M260 743h0M219 794h0M252 772h0M328 782h0M379 759h0M320 788h0M246 766h0M250 729h0M290 738h0M353 739h0M251 767h0M252 766h0M248 716h0M165 720h0M346 779h0M283 748h0M269 774h0M212 737h0M235 807h0M227 804h0M255 857h0M272 765h0M338 794h0M319 728h0M328 821h0M271 748h0M226 799h0M290 764h0M219 819h0M316 763h0M344 732h0M317 730h0M341 755h0M332 750h0M294 803h0M235 767h0M237 793h0M248 751h0M267 804h0M228 763h0M261 745h0M240 759h0M285 711h0M287 724h0M277 842h0M231 762h0M264 797h0M254 703h0M202 770h0M288 800h0M251 787h0M227 808h0M273 741h0M284 823h0M237 722h0M229 725h0M274 776h0M268 771h0M331 754h0M218 686h0M287 741h0M265 778h0M297 711h0M232 767h0M269 803h0M253 694h0M330 708h0M231 777h0M227 849h0M287 782h0M256 839h0M301 740h0M334 707h0M249 774h0M282 731h0M349 814h0M233 777h0M247 749h0M321 768h0M283 768h0M214 815h0M241 819h0M260 745h0M387 772h0M248 742h0M329 843h0M330 747h0M217 736h0M282 774h0M247 818h0M228 734h0M322 784h0M265 804h0M198 833h0M432 846h0M298 847h0M293 820h0M277 772h0M324 691h0M276 836h0M350 778h0M303 822h0M312 685h0M229 752h0M299 745h0M283 834h0M351 789h0M291 767h0M314 774h0M243 797h0M236 762h0M267 716h0M329 761h0M214 761h0M201 824h0M324 847h0M253 794h0M227 728h0M284 781h0M350 753h0M362 804h0M233 757h0M231 835h0M254 801h0M349 753h0M258 778h0M240 711h0M227 778h0M302 838h0M172 785h0M215 812h0M335 769h0M385 748h0M256 720h0M248 769h0M334 818h0M273 734h0M268 746h0M260 747h0M234 762h0M257 757h0M200 770h0M327 791h0M255 716h0M206 715h0M248 751h0M176 792h0M191 735h0M243 799h0M409 749h0M272 748h0M277 757h0M449 719h0M283 731h0M313 742h0M327 719h0M426 773h0M176 793h0M260 716h0M318 742h0M338 741h0M348 770h0M313 771h0M267 749h0M319 793h0M264 857h0M399 716h0M360 761h0M305 731h0M396 730h0M285 734h0M414 816h0M205 745h0M313 746h0M267 719h0M306 719h0M269 832h0M314 736h0M268 724h0M297 793h0M350 753h0M213 761h0M397 776h0M286 678h0M262 787h0M229 820h0M254 728h0M253 760h0M354 741h0M176 761h0M323 828h0M218 825h0M333 783h0M241 728h0M229 803h0M304 808h0M406 765h0M287 843h0M207 746h0M266 749h0M299 730h0M364 708h0M238 695h0M200 788h0M330 756h0M344 790h0M253 763h0M313 847h0M262 779h0M325 814h0M317 808h0M222 753h0M166 762h0M439 774h0M296 775h0M299 710h0M246 757h0M301 729h0M283 734h0M206 737h0M239 799h0M376 788h0M276 741h0M190 743h0M390 812h0M304 754h0M290 782h0M290 782h0M241 766h0M268 808h0M211 817h0M285 744h0M291 769h0M275 782h0M253 695h0M334 763h0M396 780h0M162 815h0M246 787h0M432 809h0M220 761h0M187 792h0M326 722h0M319 803h0M342 737h0M246 718h0M207 777h0M293 818h0M308 751h0M199 828h0M301 763h0M226 721h0M330 725h0M327 790h0M266 698h0M316 822h0M237 713h0M360 770h0M250 814h0M272 783h0M264 734h0M304 729h0M177 742h0M369 809h0M429 805h0M393 775h0M262 783h0M229 794h0M261 775h0M236 759h0M353 756h0M247 776h0M346 757h0M215 701h0M205 808h0M284 784h0M358 776h0M321 744h0M187 790h0M284 788h0M222 759h0M418 730h0M296 818h0M275 770h0M262 817h0M284 749h0M318 755h0M257 827h0M353 769h0M342 798h0M327 766h0M295 781h0M326 779h0M255 761h0M319 725h0M289 795h0M301 753h0M289 745h0M353 749h0M184 716h0M309 773h0M260 712h0M281 731h0M248 765h0M241 777h0M243 746h0M276 824h0M390 803h0M243 765h0M348 797h0M186 762h0M243 795h0M331 743h0M426 753h0M445 758h0M285 841h0M257 746h0M384 763h0M320 714h0M404 804h0M313 793h0M258 746h0M190 779h0M369 799h0M349 793h0M231 712h0M331 771h0M353 754h0M234 783h0M255 699h0M251 729h0M219 743h0M350 859h0M400 748h0M363 762h0M316 738h0M285 698h0M404 734h0M327 741h0M307 718h0M266 801h0M328 687h0M344 712h0M308 785h0M249 752h0M274 781h0M348 819h0M311 844h0M230 836h0M273 795h0M282 768h0M232 780h0M419 771h0M289 765h0M335 757h0M290 773h0M373 803h0M223 739h0M291 799h0M352 756h0M425 758h0M379 822h0M392 773h0M327 704h0M177 740h0M336 807h0M283 806h0M327 825h0M189 732h0M229 723h0M395 728h0M237 749h0M346 746h0M337 787h0M249 670h0M232 715h0M394 736h0M222 780h0M293 727h0M360 801h0M308 734h0M234 683h0M314 780h0M231 766h0M499 720h0M181 789h0M263 745h0M330 759h0M353 785h0M364 769h0M182 806h0M306 709h0M294 800h0M225 766h0M243 725h0M251 815h0M334 763h0M285 770h0M308 772h0M181 801h0M235 661h0M335 716h0M281 761h0M252 786h0M273 753h0M229 753h0M224 766h0M374 805h0M317 710h0M356 802h0M422 675h0M291 751h0M359 721h0M266 857h0M354 685h0M291 819h0M251 788h0M296 706h0M250 810h0M366 740h0M362 736h0M306 764h0M210 777h0M265 655h0M237 730h0M237 725h0M246 666h0M347 767h0M306 754h0M294 754h0M220 704h0M295 805h0M305 829h0M203 754h0M251 814h0M398 743h0M337 755h0M226 760h0M223 826h0M328 812h0M313 667h0M341 768h0M355 833h0M225 796h0M311 757h0M272 785h0M327 791h0M264 711h0M374 816h0M254 763h0M342 694h0M322 861h0M307 736h0M421 765h0M304 747h0M302 692h0M208 705h0M348 760h0M364 682h0M252 823h0M239 689h0M242 750h0M289 817h0M375 827h0M327 744h0M258 705h0M371 815h0M296 728h0M333 784h0M300 717h0M305 741h0M337 788h0M318 747h0M387 795h0M371 798h0M332 780h0M222 691h0M230 789h0M348 771h0M296 838h0M265 692h0M191 751h0M335 794h0M276 797h0M287 735h0M266 794h0M351 719h0M227 769h0M426 717h0M210 781h0M322 739h0M288 784h0M179 763h0M328 801h0M364 761h0M198 818h0M339 738h0M356 806h0M281 669h0M260 734h0M237 761h0M221 780h0M410 716h0M356 743h0M325 759h0M372 735h0M337 733h0M305 763h0M359 701h0M204 820h0M315 832h0M224 773h0M328 835h0M287 746h0M336 760h0M242 795h0M169 723h0M377 744h0M269 779h0M361 785h0M229 741h0M357 759h0M250 799h0M363 852h0M222 736h0M246 778h0M260 809h0M249 753h0M326 772h0M226 824h0M327 744h0M303 719h0M212 752h0M313 768h0M241 708h0M184 828h0M313 732h0M365 786h0M264 739h0M362 777h0M394 779h0M253 740h0M245 774h0M306 788h0M319 722h0M277 726h0M321 711h0M253 729h0M251 754h0M386 754h0M199 752h0M337 786h0M305 844h0M360 768h0M367 710h0M279 729h0M301 829h0M259 828h0M225 821h0M183 730h0M353 760h0M299 763h0M301 757h0M228 752h0M297 728h0M320 835h0M186 742h0M272 765h0M296 735h0M288 764h0M285 826h0M298 704h0M348 787h0M443 742h0M365 754h0M463 740h0M443 797h0M531 785h0M457 716h0M530 820h0M569 807h0M492 779h0M469 811h0M449 843h0M530 753h0M470 706h0M413 754h0M660 735h0M541 768h0M447 788h0M315 799h0M620 776h0M465 771h0M522 747h0M479 783h0M443 779h0M496 791h0M393 745h0M437 809h0M489 705h0M371 836h0M496 718h0M399 770h0M581 824h0M442 754h0M619 729h0M591 777h0M477 812h0M508 735h0M352 766h0M510 815h0M267 814h0M518 820h0M532 773h0M504 780h0M421 761h0M480 749h0M356 712h0M509 784h0M478 722h0M536 751h0M309 822h0M354 847h0M511 749h0M287 739h0M585 815h0M490 703h0M440 755h0M506 760h0M497 705h0M420 818h0M357 799h0M649 789h0M362 810h0M326 777h0M438 810h0M562 772h0M609 801h0M433 729h0M661 750h0M502 761h0M433 706h0M459 761h0M546 746h0M349 726h0M467 774h0M526 751h0M512 770h0M601 763h0M481 786h0M565 731h0M433 755h0M304 813h0M553 766h0M732 812h0M627 822h0M540 713h0M589 780h0M377 767h0M529 801h0M484 746h0M529 737h0M464 793h0M358 779h0M318 731h0M374 762h0M526 763h0M541 769h0M454 783h0M452 770h0M551 744h0M560 724h0M453 701h0M429 823h0M498 812h0M356 728h0M506 795h0M535 704h0M510 762h0M479 782h0M448 703h0M387 712h0M368 760h0M572 739h0M411 723h0M336 767h0M432 756h0M395 783h0M377 785h0M419 794h0M401 781h0M504 762h0M597 771h0M401 790h0M406 745h0M471 772h0M603 701h0M450 806h0M458 777h0M589 720h0M473 794h0M424 701h0M392 772h0M485 833h0M573 708h0M551 799h0M596 759h0M427 770h0M591 788h0M602 794h0M424 728h0M614 709h0M443 753h0M399 744h0M470 852h0M465 746h0M480 800h0M406 750h0M334 791h0M523 820h0M377 845h0M538 755h0M440 754h0M375 793h0M423 738h0M510 769h0M424 756h0M432 815h0M548 738h0M467 815h0M448 830h0M505 790h0M308 796h0M497 786h0M508 784h0M430 798h0M475 726h0M391 771h0M496 684h0M309 804h0M350 756h0M423 786h0M580 824h0M391 810h0M375 776h0M483 788h0M408 814h0M465 764h0M449 726h0M526 777h0M506 834h0M402 755h0M471 797h0M456 799h0M506 700h0M417 690h0M448 750h0M516 771h0M465 812h0M516 720h0M416 777h0M603 758h0M457 775h0M531 762h0M493 749h0M427 736h0M521 744h0M513 780h0M546 666h0M395 720h0M457 795h0" fill="none" stroke="#000" stroke-width="8" stroke-linecap="square" stroke-opacity="0.50" filter="url(#db)"/>
<rect class="ax" style="stroke-width:1.5" x="14.9" y="29" width="64.4" height="58.2"/>
<path class="ax" style="stroke-width:1.5" d="M38 29V87.2M14.9 63.2H79.3"/>
<ellipse cx="47.5" cy="123.2" rx="13.5" ry="4.6" transform="rotate(-4.0 47.5 123.2)" fill="url(#gb)" opacity="0.90"/>
<ellipse cx="34.0" cy="125.0" rx="11.0" ry="4.2" transform="rotate(-4.0 34.0 125.0)" fill="url(#gb)" opacity="0.50"/>
<ellipse cx="36.0" cy="152.0" rx="20.0" ry="7.8" transform="rotate(0.0 36.0 152.0)" fill="url(#gb)" opacity="0.90"/>
<path transform="scale(.1)" d="M606 1256h0M543 1236h0M449 1245h0M353 1259h0M470 1246h0M415 1214h0M435 1234h0M489 1225h0M489 1246h0M408 1235h0M386 1227h0M519 1216h0M570 1237h0M518 1232h0M516 1253h0M476 1222h0M440 1274h0M460 1224h0M432 1201h0M443 1241h0M444 1219h0M492 1241h0M447 1241h0M418 1254h0M417 1229h0M477 1224h0M408 1280h0M552 1192h0M477 1207h0M487 1205h0M501 1242h0M562 1252h0M445 1254h0M445 1232h0M443 1199h0M502 1190h0M457 1244h0M476 1200h0M435 1249h0M529 1262h0M372 1248h0M444 1250h0M379 1236h0M508 1218h0M451 1214h0M530 1202h0M421 1229h0M453 1277h0M485 1215h0M501 1238h0M485 1231h0M495 1208h0M405 1228h0M411 1251h0M574 1252h0M494 1238h0M433 1209h0M499 1201h0M486 1229h0M510 1232h0M476 1221h0M377 1232h0M507 1252h0M544 1208h0M420 1250h0M446 1287h0M487 1201h0M440 1267h0M372 1242h0M395 1270h0M446 1213h0M378 1224h0M333 1232h0M587 1228h0M456 1210h0M488 1222h0M424 1264h0M494 1213h0M549 1227h0M497 1234h0M533 1242h0M451 1249h0M449 1237h0M558 1206h0M414 1228h0M443 1261h0M384 1285h0M555 1219h0M480 1225h0M506 1244h0M510 1246h0M574 1223h0M508 1227h0M472 1237h0M467 1240h0M424 1233h0M437 1211h0M432 1225h0M462 1202h0M456 1211h0M426 1240h0M530 1235h0M444 1226h0M542 1195h0M531 1199h0M436 1236h0M458 1268h0M497 1230h0M521 1231h0M427 1259h0M551 1254h0M407 1276h0M448 1250h0M534 1278h0M383 1217h0M533 1239h0M453 1174h0M494 1228h0M329 1296h0M335 1230h0M470 1238h0M511 1225h0M422 1229h0M357 1217h0M576 1213h0M466 1272h0M527 1232h0M510 1225h0M421 1256h0M477 1265h0M456 1226h0M489 1228h0M453 1216h0M484 1239h0M569 1227h0M375 1248h0M593 1217h0M427 1232h0M316 1235h0M460 1203h0M501 1213h0M370 1224h0M504 1270h0M537 1233h0M442 1229h0M522 1219h0M492 1252h0M421 1224h0M494 1232h0M463 1223h0M467 1271h0M543 1195h0M473 1235h0M472 1205h0M463 1236h0M433 1242h0M339 1210h0M475 1241h0M461 1224h0M480 1255h0M519 1228h0M445 1256h0M499 1249h0M455 1216h0M480 1220h0M532 1247h0M352 1254h0M542 1250h0M444 1217h0M522 1251h0M473 1209h0M388 1243h0M425 1222h0M494 1253h0M359 1226h0M540 1228h0M452 1247h0M409 1212h0M471 1265h0M525 1230h0M525 1221h0M406 1202h0M485 1251h0M490 1231h0M448 1257h0M467 1204h0M544 1215h0M491 1232h0M527 1235h0M536 1233h0M445 1224h0M505 1214h0M520 1225h0M420 1218h0M462 1270h0M512 1231h0M421 1275h0M455 1234h0M447 1262h0M480 1223h0M480 1212h0M413 1233h0M315 1267h0M577 1204h0M462 1201h0M479 1237h0M510 1203h0M438 1222h0M457 1281h0M459 1233h0M443 1251h0M608 1249h0M553 1206h0M527 1230h0M538 1251h0M505 1196h0M477 1222h0M494 1232h0M527 1197h0M430 1234h0M487 1224h0M468 1234h0M527 1227h0M483 1195h0M329 1211h0M489 1184h0M492 1230h0M470 1218h0M447 1251h0M489 1231h0M444 1239h0M534 1229h0M450 1210h0M475 1214h0M392 1256h0M436 1193h0M431 1273h0M464 1206h0M410 1251h0M492 1236h0M459 1244h0M553 1238h0M461 1205h0M494 1264h0M505 1205h0M480 1259h0M436 1245h0M535 1263h0M384 1202h0M490 1246h0M451 1234h0M448 1259h0M350 1245h0M401 1223h0M387 1219h0M469 1234h0M567 1223h0M489 1239h0M484 1262h0M478 1236h0M464 1233h0M467 1254h0M471 1234h0M467 1249h0M444 1254h0M439 1249h0M574 1232h0M465 1209h0M510 1231h0M519 1216h0M498 1269h0M492 1225h0M399 1237h0M506 1243h0M409 1215h0M417 1215h0M455 1239h0M574 1231h0M549 1194h0M554 1245h0M494 1249h0M504 1271h0M514 1194h0M375 1272h0M465 1261h0M451 1221h0M451 1241h0M480 1220h0M499 1244h0M420 1213h0M363 1233h0M471 1219h0M437 1232h0M472 1245h0M515 1239h0M531 1209h0M503 1239h0M413 1222h0M494 1233h0M402 1226h0M553 1246h0M474 1261h0M421 1232h0M522 1223h0M409 1249h0M557 1175h0M478 1207h0M454 1205h0M611 1210h0M472 1218h0M416 1227h0M481 1269h0M486 1265h0M412 1238h0M446 1202h0M673 1216h0M483 1217h0M439 1213h0M526 1221h0M462 1237h0M403 1242h0M461 1243h0M449 1235h0M498 1251h0M433 1255h0M416 1232h0M477 1236h0M334 1221h0M460 1253h0M432 1267h0M372 1240h0M499 1232h0M484 1252h0M426 1248h0M528 1225h0M344 1216h0M424 1214h0M493 1215h0M605 1237h0M399 1231h0M553 1242h0M415 1258h0M444 1280h0M440 1247h0M501 1222h0M462 1258h0M497 1230h0M494 1268h0M521 1240h0M488 1199h0M477 1222h0M510 1218h0M494 1210h0M519 1215h0M468 1245h0M452 1234h0M528 1266h0M372 1220h0M507 1250h0M444 1237h0M460 1281h0M459 1209h0M386 1212h0M541 1221h0M576 1240h0M491 1245h0M513 1250h0M417 1225h0M440 1237h0M456 1208h0M432 1272h0M585 1208h0M491 1231h0M424 1251h0M466 1268h0M495 1225h0M326 1240h0M516 1215h0M518 1244h0M374 1235h0M487 1248h0M478 1232h0M451 1228h0M470 1211h0M505 1224h0M498 1221h0M492 1234h0M518 1240h0M521 1227h0M467 1228h0M402 1234h0M529 1245h0M424 1242h0M511 1202h0M489 1239h0M511 1236h0M375 1197h0M578 1218h0M539 1255h0M475 1209h0M544 1228h0M498 1241h0M522 1251h0M393 1208h0M478 1233h0M512 1228h0M460 1276h0M545 1253h0M526 1213h0M465 1232h0M411 1219h0M479 1207h0M499 1241h0M457 1227h0M503 1241h0M490 1207h0M382 1281h0M435 1228h0M371 1222h0M430 1252h0M326 1213h0M448 1224h0M428 1226h0M384 1244h0M535 1232h0M441 1261h0M497 1210h0M439 1222h0M468 1258h0M432 1232h0M476 1208h0M444 1247h0M532 1191h0M508 1225h0M540 1242h0M577 1233h0M449 1217h0M392 1249h0M498 1248h0M489 1201h0M448 1229h0M479 1248h0M547 1234h0M358 1219h0M354 1224h0M405 1242h0M458 1257h0M529 1220h0M521 1230h0M495 1259h0M408 1235h0M554 1212h0M482 1235h0M447 1207h0M433 1215h0M529 1235h0M508 1206h0M497 1234h0M527 1215h0M514 1259h0M568 1208h0M409 1207h0M522 1242h0M489 1214h0M538 1262h0M468 1231h0M535 1240h0M543 1220h0M488 1225h0M439 1229h0M455 1244h0M454 1235h0M426 1210h0M548 1208h0M569 1246h0M346 1227h0M447 1235h0M460 1221h0M538 1226h0M522 1216h0M433 1263h0M455 1211h0M461 1255h0M461 1219h0M505 1251h0M459 1227h0M450 1290h0M460 1270h0M462 1242h0M359 1243h0M473 1226h0M448 1206h0M389 1241h0M435 1233h0M460 1223h0M431 1274h0M410 1226h0M454 1210h0M418 1254h0M521 1233h0M646 1239h0M537 1212h0M529 1264h0M450 1271h0M426 1212h0M468 1217h0M505 1208h0M475 1193h0M468 1255h0M456 1240h0M529 1207h0M401 1239h0M485 1227h0M417 1261h0M407 1231h0M468 1248h0M446 1218h0M579 1209h0M513 1227h0M444 1234h0M456 1240h0M332 1241h0M474 1213h0M449 1282h0M570 1240h0M483 1226h0M546 1219h0M426 1250h0M418 1220h0M549 1195h0M467 1236h0M484 1202h0M458 1227h0M575 1247h0M429 1253h0M506 1229h0M457 1228h0M386 1225h0M521 1260h0M571 1219h0M504 1182h0M456 1208h0M515 1196h0M414 1214h0M492 1249h0M420 1273h0M479 1215h0M489 1232h0M515 1237h0M589 1250h0M436 1251h0M512 1210h0M430 1219h0M336 1254h0M459 1259h0M440 1236h0M510 1250h0M488 1211h0M590 1244h0M544 1262h0M546 1237h0M496 1244h0M389 1255h0M417 1245h0M415 1251h0M444 1286h0M481 1243h0M421 1230h0M467 1227h0M447 1216h0M512 1223h0M426 1243h0M426 1232h0M443 1216h0M458 1217h0M402 1244h0M454 1204h0M449 1238h0M494 1239h0M484 1244h0M444 1218h0M504 1223h0M471 1246h0M521 1255h0M433 1228h0M501 1202h0M402 1250h0M437 1216h0M514 1241h0M520 1223h0M455 1227h0M487 1191h0M433 1250h0M428 1234h0M477 1243h0M445 1211h0M606 1210h0M563 1192h0M476 1229h0M573 1269h0M523 1209h0M427 1220h0M443 1240h0M428 1231h0M550 1258h0M370 1220h0M450 1261h0M453 1273h0M490 1261h0M424 1229h0M526 1241h0M370 1233h0M480 1245h0M436 1271h0M479 1262h0M492 1233h0M453 1210h0M517 1246h0M521 1222h0M416 1229h0M454 1234h0M524 1211h0M444 1249h0M519 1275h0M499 1214h0M414 1220h0M474 1238h0M467 1221h0M461 1232h0M503 1233h0M427 1212h0M551 1226h0M461 1233h0M532 1223h0M480 1228h0M502 1211h0M482 1253h0M535 1242h0M487 1264h0M509 1259h0M406 1215h0M514 1225h0M447 1215h0M551 1204h0M476 1204h0M461 1279h0M602 1215h0M416 1269h0M425 1199h0M489 1210h0M392 1261h0M431 1214h0M480 1229h0M531 1231h0M557 1251h0M567 1250h0M475 1244h0M472 1201h0M407 1252h0M343 1224h0M402 1236h0M415 1241h0M460 1224h0M425 1191h0M475 1206h0M455 1241h0M527 1244h0M550 1199h0M507 1263h0M492 1209h0M492 1221h0M436 1257h0M461 1211h0M434 1275h0M425 1249h0M480 1256h0M456 1215h0M436 1214h0M610 1229h0M454 1260h0M506 1227h0M504 1237h0M531 1263h0M454 1233h0M461 1258h0M492 1248h0M519 1217h0M478 1261h0M521 1247h0M456 1227h0M425 1230h0M467 1204h0M533 1214h0M484 1244h0M441 1198h0M523 1238h0M457 1257h0M519 1211h0M467 1197h0M457 1263h0M426 1252h0M390 1232h0M522 1265h0M495 1247h0M563 1178h0M379 1277h0M603 1237h0M474 1238h0M472 1220h0M470 1231h0M507 1245h0M524 1242h0M419 1264h0M328 1244h0M489 1221h0M571 1205h0M408 1227h0M493 1248h0M477 1246h0M433 1223h0M478 1205h0M481 1224h0M508 1210h0M443 1223h0M451 1214h0M457 1206h0M500 1245h0M470 1229h0M423 1216h0M459 1215h0M408 1240h0M470 1225h0M427 1235h0M434 1227h0M481 1247h0M511 1218h0M535 1206h0M462 1260h0M598 1228h0M452 1227h0M406 1234h0M448 1219h0M535 1213h0M561 1245h0M505 1219h0M444 1194h0M485 1227h0M492 1218h0M497 1201h0M354 1250h0M528 1166h0M539 1222h0M462 1202h0M418 1251h0M432 1235h0M463 1274h0M518 1203h0M445 1211h0M397 1224h0M529 1230h0M507 1228h0M448 1236h0M467 1272h0M566 1235h0M503 1191h0M464 1282h0M428 1252h0M536 1221h0M459 1224h0M513 1231h0M551 1252h0M470 1286h0M454 1222h0M458 1216h0M448 1233h0M518 1198h0M396 1222h0M455 1243h0M429 1266h0M443 1230h0M474 1257h0M487 1233h0M442 1238h0M492 1225h0M470 1196h0M443 1259h0M546 1227h0M356 1277h0M462 1286h0M449 1255h0M438 1263h0M532 1208h0M539 1287h0M459 1209h0M485 1224h0M391 1216h0M484 1201h0M528 1239h0M461 1262h0M422 1250h0M262 1247h0M378 1236h0M334 1265h0M429 1274h0M367 1243h0M257 1293h0M449 1195h0M391 1246h0M382 1255h0M329 1251h0M338 1276h0M326 1239h0M378 1262h0M366 1255h0M426 1270h0M353 1245h0M379 1206h0M310 1236h0M351 1241h0M483 1258h0M364 1299h0M340 1243h0M412 1264h0M394 1274h0M320 1236h0M299 1255h0M398 1223h0M310 1222h0M456 1261h0M353 1222h0M281 1239h0M343 1221h0M327 1278h0M341 1252h0M220 1251h0M332 1235h0M261 1253h0M282 1241h0M249 1253h0M393 1228h0M359 1215h0M374 1260h0M318 1271h0M290 1254h0M438 1244h0M276 1280h0M371 1242h0M236 1214h0M253 1288h0M357 1230h0M407 1279h0M292 1264h0M246 1264h0M445 1212h0M344 1236h0M335 1252h0M357 1269h0M370 1272h0M399 1271h0M302 1261h0M319 1232h0M453 1250h0M343 1203h0M327 1268h0M329 1238h0M425 1238h0M321 1249h0M327 1274h0M373 1246h0M320 1246h0M438 1237h0M378 1212h0M359 1264h0M414 1253h0M374 1255h0M402 1292h0M352 1231h0M375 1245h0M377 1265h0M349 1240h0M358 1221h0M356 1229h0M366 1251h0M328 1224h0M343 1235h0M332 1266h0M395 1218h0M394 1277h0M405 1252h0M335 1289h0M322 1217h0M346 1256h0M281 1226h0M454 1246h0M385 1234h0M254 1251h0M418 1230h0M238 1252h0M325 1251h0M281 1247h0M309 1272h0M349 1269h0M338 1202h0M228 1269h0M391 1267h0M336 1210h0M312 1261h0M420 1238h0M308 1235h0M399 1266h0M236 1283h0M288 1220h0M249 1239h0M474 1299h0M269 1239h0M350 1259h0M313 1216h0M317 1236h0M238 1259h0M257 1216h0M428 1266h0M424 1248h0M317 1249h0M262 1271h0M356 1242h0M233 1254h0M434 1277h0M391 1239h0M349 1262h0M352 1273h0M302 1200h0M201 1238h0M261 1270h0M402 1246h0M372 1250h0M351 1239h0M317 1278h0M325 1250h0M409 1268h0M318 1257h0M283 1256h0M359 1249h0M350 1258h0M195 1240h0M345 1239h0M285 1248h0M433 1239h0M303 1241h0M272 1265h0M284 1274h0M393 1260h0M400 1244h0M240 1255h0M377 1213h0M271 1279h0M366 1279h0M379 1249h0M365 1268h0M339 1245h0M359 1242h0M479 1224h0M254 1226h0M401 1237h0M350 1245h0M357 1216h0M346 1237h0M403 1260h0M268 1233h0M373 1275h0M385 1244h0M405 1193h0M310 1230h0M281 1266h0M357 1255h0M333 1264h0M386 1234h0M395 1226h0M442 1215h0M324 1227h0M343 1279h0M297 1293h0M422 1254h0M307 1272h0M175 1243h0M396 1246h0M484 1226h0M264 1250h0M374 1286h0M239 1260h0M414 1230h0M314 1224h0M385 1266h0M375 1253h0M398 1244h0M382 1266h0M416 1257h0M346 1266h0M251 1216h0M435 1247h0M280 1241h0M332 1252h0M296 1275h0M242 1319h0M278 1291h0M380 1210h0M270 1256h0M357 1239h0M342 1254h0M274 1255h0M473 1227h0M282 1269h0M419 1269h0M304 1250h0M353 1244h0M364 1273h0M373 1248h0M329 1291h0M269 1300h0M384 1249h0M297 1294h0M412 1266h0M463 1202h0M347 1243h0M298 1254h0M372 1260h0M333 1220h0M374 1262h0M465 1264h0M342 1224h0M501 1225h0M352 1266h0M370 1278h0M280 1238h0M351 1221h0M305 1284h0M358 1247h0M307 1253h0M339 1226h0M387 1218h0M416 1238h0M206 1223h0M358 1229h0M448 1275h0M465 1263h0M421 1231h0M418 1235h0M338 1219h0M344 1259h0M337 1225h0M394 1268h0M336 1268h0M399 1224h0M339 1208h0M279 1263h0M289 1262h0M362 1202h0M312 1286h0M342 1253h0M299 1216h0M246 1321h0M330 1231h0M347 1205h0M424 1284h0M296 1260h0M287 1273h0M291 1250h0M419 1257h0M321 1216h0M246 1283h0M371 1249h0M416 1249h0M297 1250h0M335 1250h0M490 1254h0M357 1243h0M300 1230h0M228 1246h0M250 1213h0M285 1207h0M423 1274h0M283 1300h0M380 1190h0M342 1227h0M236 1250h0M410 1256h0M253 1240h0M295 1279h0M335 1228h0M286 1208h0M290 1274h0M226 1261h0M334 1269h0M272 1275h0M434 1297h0M243 1255h0M328 1254h0M281 1273h0M482 1276h0M283 1240h0M384 1250h0M295 1281h0M372 1272h0M330 1280h0M313 1226h0M340 1218h0M416 1262h0M239 1260h0M392 1239h0M366 1235h0M336 1248h0M370 1226h0M272 1262h0M310 1264h0M310 1222h0M385 1253h0M384 1240h0M319 1280h0M238 1296h0M371 1247h0M346 1264h0M294 1259h0M283 1211h0M352 1252h0M379 1260h0M383 1266h0M277 1282h0M502 1227h0M264 1270h0M396 1270h0M433 1212h0M363 1259h0M416 1225h0M342 1241h0M331 1247h0M331 1210h0M338 1252h0M317 1170h0M298 1237h0M288 1290h0M396 1242h0M377 1324h0M282 1264h0M304 1286h0M407 1243h0M377 1229h0M245 1275h0M439 1237h0M308 1211h0M470 1215h0M282 1249h0M413 1247h0M339 1251h0M391 1246h0M350 1248h0M273 1285h0M298 1222h0M314 1252h0M390 1213h0M264 1259h0M363 1223h0M272 1258h0M331 1213h0M287 1287h0M276 1278h0M248 1290h0M437 1230h0M299 1267h0M265 1267h0M414 1252h0M360 1245h0M401 1227h0M436 1244h0M320 1213h0M314 1257h0M415 1208h0M332 1235h0M268 1254h0M294 1273h0M178 1277h0M225 1212h0M371 1240h0M348 1227h0M277 1237h0M337 1231h0M315 1232h0M354 1223h0M215 1197h0M339 1252h0M398 1229h0M271 1220h0M386 1233h0M400 1245h0M323 1208h0M299 1271h0M303 1268h0M241 1279h0M508 1266h0M359 1220h0M308 1237h0M351 1203h0M288 1271h0M349 1267h0M391 1220h0M259 1266h0M342 1252h0M291 1276h0M370 1275h0M319 1267h0M336 1228h0M335 1212h0M329 1255h0M382 1223h0M260 1238h0M215 1242h0M498 1244h0M294 1237h0M446 1217h0M333 1249h0M296 1236h0M239 1237h0M418 1278h0M323 1267h0M368 1251h0M332 1279h0M374 1243h0M326 1272h0M304 1236h0M323 1239h0M416 1254h0M335 1238h0M425 1255h0M465 1263h0M327 1238h0M323 1255h0M388 1258h0M435 1209h0M342 1217h0M278 1240h0M301 1230h0M249 1282h0M321 1273h0M273 1200h0M304 1272h0M306 1261h0M275 1286h0M366 1273h0M323 1281h0M344 1238h0M301 1254h0M285 1226h0M432 1264h0M392 1271h0M571 1192h0M444 1210h0M359 1251h0M194 1275h0M500 1255h0M482 1296h0M385 1279h0M558 1249h0M250 1247h0M392 1192h0M414 1267h0M395 1238h0M560 1214h0M330 1249h0M527 1255h0M427 1226h0M537 1263h0M255 1263h0M191 1304h0M478 1218h0M297 1240h0M253 1270h0M371 1188h0M418 1280h0M299 1238h0M593 1238h0M367 1251h0M494 1205h0M411 1190h0M269 1202h0M500 1247h0M490 1277h0M424 1249h0M459 1255h0M319 1239h0M405 1244h0M348 1242h0M447 1246h0M476 1265h0M473 1270h0M500 1282h0M480 1219h0M642 1265h0M539 1258h0M424 1205h0M462 1228h0M382 1176h0M567 1196h0M315 1263h0M474 1213h0M419 1250h0M435 1258h0M494 1226h0M266 1321h0M383 1212h0M491 1256h0M361 1321h0M196 1296h0M416 1252h0M450 1233h0M450 1198h0M382 1304h0M174 1296h0M207 1227h0M504 1224h0M365 1197h0M408 1237h0M359 1196h0M435 1255h0M529 1252h0M565 1272h0M410 1209h0M461 1270h0M272 1211h0M485 1220h0M559 1241h0M367 1202h0M477 1183h0M296 1207h0M582 1287h0M399 1231h0M487 1278h0M343 1317h0M400 1279h0M195 1254h0M353 1310h0M399 1202h0M606 1209h0M420 1202h0M485 1244h0M392 1231h0M365 1222h0M286 1289h0M505 1192h0M309 1262h0M636 1222h0M390 1236h0M444 1235h0M523 1267h0M473 1289h0M398 1226h0M704 1163h0M271 1175h0M454 1206h0M521 1169h0M407 1230h0M317 1284h0M382 1259h0M370 1250h0M377 1247h0M410 1221h0M462 1234h0M327 1214h0M462 1282h0M295 1236h0M463 1273h0M488 1200h0M423 1271h0M443 1233h0M307 1254h0M414 1243h0M563 1272h0M344 1254h0M390 1247h0M576 1262h0M424 1221h0M404 1255h0M372 1280h0M422 1204h0M615 1137h0M394 1240h0M514 1272h0M559 1284h0M450 1244h0M517 1235h0M300 1235h0M483 1258h0M314 1287h0M449 1192h0M465 1272h0M471 1229h0M343 1283h0M442 1240h0M382 1211h0M241 1242h0M526 1260h0M355 1295h0M398 1211h0M513 1281h0M383 1205h0M414 1164h0M425 1291h0M446 1217h0M488 1222h0M541 1223h0M614 1219h0M438 1211h0M298 1260h0M453 1209h0M473 1226h0M367 1243h0M458 1263h0M538 1247h0M351 1224h0M455 1201h0M404 1231h0M411 1248h0M519 1289h0M504 1269h0M318 1281h0M544 1191h0M661 1209h0M193 1312h0M426 1216h0M365 1280h0M444 1228h0M530 1205h0M339 1229h0M349 1268h0M398 1210h0M376 1181h0M436 1244h0M478 1231h0M458 1210h0M422 1247h0M304 1268h0M434 1243h0M374 1309h0M420 1217h0M339 1266h0M400 1218h0M351 1276h0M428 1275h0M418 1204h0M503 1247h0M358 1236h0M327 1274h0M380 1260h0M445 1232h0M455 1232h0M308 1235h0M308 1273h0M482 1220h0M479 1246h0M513 1207h0M422 1210h0M355 1290h0M229 1224h0M466 1264h0M345 1181h0M256 1264h0M525 1265h0M350 1289h0M402 1263h0M402 1294h0M371 1176h0M390 1250h0M446 1217h0M398 1207h0M398 1246h0M443 1293h0M230 1270h0M461 1203h0M427 1241h0M325 1271h0M601 1253h0M494 1272h0M408 1274h0M343 1252h0M487 1280h0M393 1234h0M464 1237h0M433 1267h0M347 1274h0M456 1231h0M301 1229h0M416 1272h0M233 1276h0M438 1205h0M501 1250h0M461 1208h0M315 1277h0M553 1246h0M402 1229h0M258 1283h0M411 1282h0M352 1280h0M352 1265h0M550 1212h0M506 1237h0M331 1254h0M481 1216h0M395 1225h0M347 1240h0M498 1222h0M538 1223h0M355 1280h0M553 1213h0M475 1202h0M382 1232h0M487 1198h0M372 1223h0M429 1202h0M294 1339h0M440 1193h0M498 1196h0M243 1306h0M538 1208h0M317 1263h0M611 1250h0M482 1201h0M252 1264h0M515 1241h0M419 1286h0M341 1281h0M498 1218h0M432 1245h0M475 1208h0M398 1246h0M423 1243h0M443 1235h0M373 1277h0M360 1236h0M337 1211h0M462 1238h0M407 1257h0M404 1264h0M589 1243h0M395 1296h0M486 1185h0M545 1241h0M500 1201h0M341 1226h0M472 1203h0M354 1276h0M360 1249h0M336 1193h0M412 1239h0M286 1281h0M497 1265h0M372 1209h0M411 1248h0M404 1224h0M327 1224h0M412 1227h0M576 1224h0M462 1225h0M403 1212h0M375 1198h0M226 1296h0M321 1262h0M408 1225h0M488 1220h0M460 1228h0M510 1267h0M426 1276h0M467 1288h0M409 1194h0M440 1248h0M386 1237h0M395 1204h0M580 1208h0M320 1198h0M341 1245h0M557 1253h0M352 1207h0M316 1246h0M501 1222h0M569 1294h0M435 1173h0M521 1233h0M482 1269h0M326 1250h0M436 1217h0M484 1234h0M382 1303h0M435 1292h0M405 1275h0M350 1251h0M520 1168h0M470 1230h0M521 1241h0M413 1202h0M693 1202h0M390 1221h0M392 1251h0M296 1282h0M395 1262h0M224 1237h0M392 1231h0M358 1255h0M458 1209h0M237 1276h0M390 1277h0M501 1234h0M287 1239h0M352 1285h0M262 1280h0M277 1233h0M288 1228h0M379 1256h0M365 1267h0M582 1237h0M313 1243h0M410 1231h0M526 1272h0M605 1247h0M172 1253h0M482 1213h0M364 1274h0M433 1206h0M365 1149h0M419 1204h0M415 1205h0M333 1231h0M678 1189h0M309 1232h0M518 1261h0M484 1228h0M431 1217h0M403 1218h0M285 1219h0M598 1244h0M350 1243h0M377 1283h0M417 1222h0M482 1248h0M356 1222h0M432 1190h0M335 1279h0M499 1272h0M378 1226h0M394 1228h0M538 1228h0M545 1212h0M454 1291h0M350 1226h0M364 1195h0M392 1223h0M623 1215h0M221 1283h0M507 1236h0M446 1263h0M367 1246h0M432 1293h0M550 1239h0M295 1277h0M414 1279h0M424 1247h0M480 1215h0M358 1317h0M339 1276h0M482 1264h0M546 1192h0M507 1172h0M424 1252h0M514 1270h0M333 1239h0M404 1221h0M343 1226h0M525 1278h0M488 1291h0M427 1207h0M358 1252h0M514 1274h0M336 1277h0M370 1264h0M504 1283h0M370 1253h0M458 1226h0M427 1260h0M267 1231h0M632 1243h0M367 1187h0M330 1264h0M482 1252h0M474 1220h0M566 1198h0M466 1231h0M261 1280h0M393 1266h0M536 1240h0M358 1239h0M412 1288h0M498 1287h0M489 1214h0M504 1267h0M407 1257h0M389 1204h0M410 1266h0M385 1174h0M345 1281h0M439 1276h0M349 1233h0M326 1223h0M466 1244h0M374 1254h0M298 1237h0M280 1203h0M293 1215h0M564 1276h0M535 1217h0M476 1203h0M369 1253h0M271 1257h0M475 1174h0M193 1247h0M407 1247h0M314 1266h0M430 1218h0M570 1241h0M487 1296h0M373 1238h0M258 1245h0M459 1318h0M471 1245h0M302 1222h0M248 1209h0M429 1251h0M334 1240h0M344 1266h0M478 1221h0M376 1206h0M375 1314h0M417 1269h0M472 1285h0M388 1215h0M514 1265h0M357 1280h0M417 1241h0M588 1249h0M447 1230h0M437 1274h0M461 1216h0M460 1236h0M447 1234h0M216 1203h0M326 1444h0M230 1590h0M418 1504h0M387 1443h0M380 1554h0M375 1475h0M442 1502h0M310 1527h0M333 1591h0M347 1594h0M397 1477h0M358 1522h0M482 1564h0M578 1497h0M321 1601h0M282 1532h0M497 1485h0M329 1494h0M404 1534h0M355 1543h0M291 1507h0M399 1590h0M355 1522h0M471 1523h0M470 1528h0M458 1526h0M280 1490h0M395 1585h0M519 1509h0M574 1481h0M286 1552h0M227 1552h0M391 1542h0M255 1533h0M439 1518h0M447 1521h0M388 1509h0M242 1514h0M402 1494h0M190 1466h0M472 1512h0M293 1563h0M344 1468h0M321 1489h0M343 1488h0M364 1536h0M309 1513h0M345 1549h0M297 1546h0M466 1513h0M275 1509h0M206 1501h0M256 1514h0M327 1538h0M369 1535h0M355 1530h0M261 1543h0M471 1559h0M243 1535h0M218 1546h0M341 1504h0M294 1512h0M358 1486h0M364 1529h0M404 1518h0M358 1601h0M446 1531h0M239 1542h0M408 1427h0M345 1533h0M362 1523h0M345 1568h0M392 1510h0M339 1593h0M284 1502h0M387 1525h0M385 1567h0M457 1535h0M362 1518h0M339 1555h0M249 1484h0M319 1486h0M295 1562h0M164 1540h0M245 1512h0M309 1485h0M230 1523h0M325 1558h0M519 1510h0M289 1510h0M400 1553h0M276 1537h0M356 1560h0M323 1513h0M285 1474h0M382 1545h0M457 1529h0M319 1488h0M258 1495h0M388 1523h0M160 1516h0M334 1483h0M357 1539h0M269 1473h0M331 1529h0M337 1574h0M372 1485h0M426 1497h0M419 1523h0M466 1485h0M422 1535h0M280 1545h0M556 1533h0M292 1515h0M472 1529h0M488 1497h0M473 1465h0M345 1510h0M317 1563h0M307 1532h0M521 1549h0M323 1494h0M185 1533h0M437 1559h0M380 1595h0M427 1439h0M282 1548h0M324 1549h0M583 1493h0M552 1517h0M231 1523h0M438 1500h0M497 1489h0M342 1552h0M341 1500h0M358 1543h0M511 1568h0M523 1519h0M214 1519h0M323 1485h0M314 1518h0M364 1552h0M280 1560h0M363 1546h0M468 1477h0M499 1495h0M394 1558h0M440 1465h0M374 1560h0M349 1517h0M366 1578h0M312 1487h0M263 1501h0M339 1532h0M352 1460h0M222 1544h0M423 1473h0M442 1435h0M563 1541h0M214 1538h0M357 1504h0M327 1512h0M351 1488h0M310 1540h0M406 1473h0M317 1575h0M423 1578h0M241 1484h0M169 1452h0M327 1483h0M264 1496h0M343 1549h0M409 1458h0M491 1508h0M272 1519h0M325 1471h0M497 1500h0M307 1539h0M507 1537h0M281 1535h0M457 1533h0M417 1503h0M354 1461h0M297 1480h0M361 1572h0M162 1474h0M278 1517h0M462 1493h0M291 1563h0M393 1539h0M433 1494h0M380 1497h0M296 1525h0M398 1475h0M292 1541h0M375 1543h0M332 1492h0M429 1541h0M293 1543h0M498 1510h0M274 1529h0M368 1540h0M236 1529h0M439 1545h0M415 1562h0M287 1563h0M378 1485h0M334 1530h0M389 1567h0M377 1502h0M553 1508h0M287 1553h0M323 1492h0M266 1562h0M266 1524h0M320 1513h0M288 1525h0M413 1557h0M328 1479h0M229 1520h0M363 1524h0M237 1497h0M294 1544h0M324 1542h0M405 1453h0M339 1564h0M315 1525h0M349 1477h0M553 1515h0M416 1504h0M484 1561h0M464 1554h0M422 1569h0M396 1525h0M431 1489h0M373 1496h0M336 1487h0M286 1527h0M371 1549h0M352 1542h0M420 1496h0M211 1496h0M338 1502h0M555 1496h0M402 1494h0M421 1476h0M444 1527h0M325 1478h0M507 1500h0M487 1436h0M254 1584h0M518 1521h0M448 1542h0M328 1525h0M259 1473h0M371 1546h0M374 1477h0M435 1523h0M426 1510h0M336 1557h0M481 1478h0M262 1554h0M392 1522h0M273 1556h0M377 1528h0M394 1502h0M395 1525h0M423 1534h0M247 1496h0M336 1561h0M303 1560h0M455 1551h0M559 1520h0M388 1563h0M396 1555h0M349 1570h0M391 1454h0M456 1514h0M282 1510h0M335 1560h0M389 1518h0M359 1489h0M303 1504h0M340 1480h0M325 1555h0M400 1520h0M391 1512h0M255 1551h0M558 1538h0M421 1606h0M253 1539h0M330 1511h0M214 1518h0M395 1465h0M340 1503h0M272 1543h0M505 1535h0M451 1547h0M354 1541h0M477 1506h0M347 1472h0M196 1492h0M439 1533h0M383 1566h0M204 1569h0M367 1548h0M482 1492h0M283 1535h0M355 1500h0M349 1495h0M372 1507h0M510 1484h0M411 1523h0M500 1487h0M319 1581h0M302 1507h0M325 1486h0M468 1573h0M347 1494h0M240 1543h0M313 1540h0M415 1535h0M371 1520h0M330 1505h0M373 1538h0M442 1513h0M468 1488h0M529 1554h0M324 1616h0M487 1575h0M254 1517h0M402 1557h0M367 1475h0M468 1515h0M399 1509h0M350 1473h0M419 1499h0M203 1535h0M357 1554h0M432 1478h0M344 1520h0M368 1484h0M367 1554h0M470 1571h0M427 1433h0M336 1502h0M441 1520h0M392 1537h0M341 1568h0M521 1549h0M311 1529h0M446 1545h0M299 1554h0M424 1541h0M323 1519h0M191 1519h0M321 1510h0M335 1509h0M368 1524h0M306 1516h0M352 1537h0M399 1508h0M287 1464h0M250 1534h0M279 1576h0M346 1507h0M346 1502h0M304 1523h0M232 1525h0M352 1489h0M451 1533h0M456 1497h0M250 1479h0M221 1455h0M498 1504h0M377 1502h0M347 1575h0M207 1486h0M372 1489h0M421 1565h0M439 1546h0M346 1555h0M289 1479h0M337 1512h0M468 1486h0M461 1493h0M248 1462h0M357 1470h0M379 1522h0M325 1454h0M314 1536h0M202 1544h0M362 1502h0M378 1543h0M358 1493h0M429 1497h0M392 1554h0M475 1575h0M450 1525h0M342 1527h0M407 1624h0M418 1492h0M494 1465h0M449 1476h0M264 1503h0M335 1474h0M415 1516h0M479 1485h0M200 1544h0M340 1554h0M368 1588h0M251 1454h0M320 1569h0M500 1473h0M306 1457h0M286 1487h0M398 1560h0M570 1508h0M432 1528h0M371 1587h0M422 1574h0M387 1550h0M405 1517h0M299 1506h0M361 1507h0M330 1496h0M436 1512h0M350 1513h0M476 1502h0M485 1490h0M495 1541h0M317 1536h0M460 1487h0M340 1531h0M342 1510h0M362 1531h0M429 1571h0M332 1622h0M331 1582h0M349 1470h0M322 1508h0M454 1450h0M304 1516h0M418 1534h0M436 1515h0M340 1562h0M512 1533h0M374 1491h0M545 1534h0M415 1465h0M414 1604h0M346 1513h0M495 1514h0M434 1587h0M257 1491h0M420 1524h0M364 1514h0M372 1532h0M318 1511h0M381 1483h0M399 1444h0M417 1516h0M257 1567h0M257 1592h0M296 1562h0M355 1576h0M341 1556h0M332 1455h0M395 1537h0M396 1578h0M296 1471h0M383 1496h0M351 1520h0M289 1558h0M350 1582h0M382 1557h0M335 1497h0M314 1490h0M400 1525h0M266 1467h0M285 1457h0M283 1468h0M422 1480h0M309 1516h0M363 1535h0M427 1542h0M330 1563h0M393 1496h0M491 1479h0M402 1564h0M370 1532h0M371 1543h0M380 1520h0M422 1454h0M382 1510h0M532 1530h0M303 1543h0M327 1479h0M336 1538h0M464 1557h0M380 1515h0M378 1562h0M349 1560h0M291 1520h0M428 1544h0M378 1502h0M204 1505h0M287 1506h0M498 1493h0M434 1519h0M264 1524h0M426 1479h0M259 1507h0M424 1499h0M397 1536h0M362 1536h0M471 1513h0M389 1483h0M298 1517h0M431 1497h0M240 1552h0M566 1431h0M268 1524h0M403 1487h0M390 1558h0M337 1545h0M372 1488h0M307 1499h0M476 1560h0M381 1466h0M318 1506h0M193 1519h0M385 1474h0M323 1504h0M520 1543h0M427 1523h0M250 1552h0M302 1454h0M423 1508h0M360 1538h0M340 1534h0M472 1509h0M330 1521h0M416 1506h0M367 1496h0M354 1539h0M290 1514h0M234 1496h0M367 1538h0M272 1517h0M280 1531h0M383 1535h0M342 1471h0M312 1474h0M302 1518h0M453 1498h0M294 1527h0M183 1589h0M228 1555h0M444 1553h0M351 1545h0M331 1553h0M304 1492h0M393 1504h0M418 1490h0M383 1486h0M351 1594h0M268 1478h0M223 1512h0M499 1504h0M440 1514h0M306 1589h0M453 1457h0M276 1534h0M416 1512h0M387 1539h0M330 1554h0M288 1546h0M439 1527h0M331 1519h0M170 1529h0M239 1451h0M425 1489h0M391 1522h0M210 1489h0M337 1536h0M366 1477h0M315 1524h0M252 1505h0M313 1447h0M507 1550h0M320 1553h0M271 1573h0M328 1525h0M311 1523h0M388 1521h0M290 1546h0M408 1520h0M450 1495h0M469 1515h0M489 1505h0M339 1527h0M454 1570h0M321 1495h0M425 1563h0M420 1509h0M469 1519h0M375 1541h0M312 1442h0M379 1545h0M397 1539h0M374 1556h0M370 1571h0M364 1547h0M313 1530h0M396 1525h0M492 1522h0M456 1532h0M453 1489h0M329 1553h0M291 1534h0M408 1527h0M397 1539h0M340 1534h0M316 1504h0M225 1516h0M215 1521h0M378 1483h0M366 1530h0M330 1489h0M351 1534h0M439 1587h0M192 1532h0M397 1498h0M388 1592h0M370 1567h0M451 1505h0M163 1560h0M491 1459h0M343 1496h0M378 1522h0M457 1500h0M524 1461h0M379 1612h0M352 1542h0M436 1508h0M197 1527h0M423 1450h0M318 1539h0M225 1474h0M395 1559h0M459 1497h0M403 1459h0M234 1539h0M326 1485h0M201 1512h0M550 1450h0M271 1559h0M197 1499h0M366 1559h0M354 1583h0M358 1516h0M398 1532h0M232 1487h0M340 1532h0M256 1495h0M297 1532h0M323 1541h0M393 1488h0M335 1477h0M369 1548h0M276 1459h0M404 1510h0M358 1536h0M392 1552h0M321 1444h0M318 1509h0M325 1534h0M339 1565h0M306 1520h0M329 1593h0M279 1485h0M328 1547h0M361 1514h0M235 1448h0M342 1512h0M511 1533h0M396 1554h0M283 1477h0M329 1572h0M445 1500h0M254 1552h0M454 1482h0M498 1493h0M424 1513h0M332 1499h0M420 1542h0M429 1510h0M287 1595h0M507 1513h0M262 1572h0M371 1522h0M433 1532h0M370 1589h0M198 1542h0M275 1523h0M345 1529h0M561 1506h0M438 1542h0M386 1503h0M415 1529h0M485 1549h0M299 1418h0M490 1537h0M375 1499h0M576 1567h0M368 1507h0M410 1567h0M405 1553h0M383 1532h0M250 1524h0M364 1517h0M339 1531h0M310 1513h0M247 1601h0M283 1478h0M313 1506h0M267 1435h0M502 1556h0M327 1539h0M264 1463h0M389 1540h0M300 1520h0M452 1526h0M376 1540h0M179 1475h0M250 1528h0M305 1454h0M437 1513h0M447 1590h0M216 1476h0M454 1569h0M394 1533h0M420 1543h0M249 1546h0M446 1506h0M280 1503h0M309 1538h0M428 1521h0M333 1458h0M323 1485h0M312 1532h0M284 1501h0M260 1511h0M335 1555h0M190 1552h0M416 1502h0M300 1527h0M406 1514h0M346 1521h0M265 1529h0M410 1522h0M260 1520h0M350 1531h0M323 1549h0M455 1549h0M380 1562h0M356 1514h0M235 1521h0M466 1487h0M428 1476h0M386 1583h0M364 1480h0M385 1515h0M429 1502h0M208 1504h0M411 1556h0M384 1521h0M420 1513h0M320 1528h0M455 1503h0M403 1498h0M295 1526h0M243 1491h0M256 1499h0M280 1600h0M413 1523h0M243 1438h0M398 1498h0M451 1507h0M245 1498h0M226 1472h0M422 1502h0M420 1501h0M339 1501h0M312 1497h0M490 1518h0M189 1578h0M469 1559h0M350 1515h0M318 1524h0M400 1520h0M287 1487h0M505 1578h0M251 1498h0M356 1540h0M349 1528h0M391 1559h0M245 1558h0M398 1539h0M227 1512h0M336 1542h0M419 1544h0M246 1563h0M365 1552h0M358 1496h0M589 1542h0M426 1504h0M340 1558h0M398 1580h0M464 1484h0M224 1560h0M412 1511h0M333 1501h0M516 1515h0M238 1551h0M351 1532h0M325 1519h0M194 1538h0M299 1507h0M387 1563h0M170 1516h0M407 1555h0M279 1531h0M394 1552h0M304 1514h0M314 1559h0M454 1505h0M347 1528h0M280 1516h0M435 1546h0M299 1498h0M348 1471h0M386 1524h0M242 1512h0M301 1511h0M282 1566h0M274 1546h0M377 1569h0M353 1520h0M364 1457h0M569 1513h0M331 1483h0M346 1574h0M292 1535h0M449 1552h0M323 1462h0M394 1539h0M330 1506h0M512 1467h0M313 1500h0M221 1497h0M288 1562h0M205 1474h0M381 1469h0M182 1500h0M253 1488h0M344 1535h0M302 1511h0M421 1515h0M423 1501h0M401 1563h0M237 1620h0M330 1509h0M344 1536h0M252 1522h0M307 1568h0M207 1542h0M331 1496h0M370 1512h0M362 1528h0M464 1507h0M505 1431h0M519 1561h0M496 1527h0M383 1487h0M476 1482h0M289 1520h0M379 1532h0M256 1509h0M401 1560h0M426 1534h0M335 1502h0M313 1517h0M405 1504h0M539 1487h0M430 1514h0M346 1508h0M493 1511h0M407 1524h0M424 1540h0M503 1496h0M286 1577h0M470 1523h0M333 1529h0M473 1495h0M486 1519h0M327 1507h0M175 1531h0M243 1502h0M280 1528h0M422 1522h0M375 1534h0M499 1540h0M496 1518h0M389 1499h0M410 1492h0M400 1500h0M327 1561h0M371 1547h0M337 1459h0M488 1515h0M302 1552h0M259 1496h0M459 1498h0M457 1510h0M340 1523h0M315 1556h0M454 1523h0M412 1538h0M506 1468h0M448 1551h0M331 1521h0M328 1561h0M258 1541h0M471 1539h0M316 1505h0M173 1487h0M454 1489h0M215 1512h0M228 1536h0M282 1552h0M348 1474h0M291 1499h0M284 1561h0M271 1533h0M307 1540h0M233 1469h0M403 1568h0M237 1510h0M314 1490h0M443 1522h0M237 1513h0M475 1497h0M313 1493h0M373 1502h0M437 1493h0M231 1535h0M383 1529h0M308 1506h0M288 1515h0M318 1539h0M359 1539h0M502 1512h0M333 1533h0M543 1509h0M507 1560h0M272 1534h0M475 1522h0M373 1592h0M390 1592h0M280 1575h0M314 1441h0M286 1505h0M355 1546h0M419 1538h0M293 1579h0M464 1522h0M308 1519h0M339 1498h0M358 1499h0M415 1499h0M402 1531h0M373 1538h0M269 1606h0M298 1545h0M361 1506h0M511 1557h0M335 1539h0M419 1573h0M448 1515h0M337 1482h0M382 1549h0M324 1543h0M370 1505h0M252 1557h0M582 1539h0M264 1486h0M381 1542h0M492 1441h0M522 1526h0M371 1533h0M328 1511h0M452 1463h0M349 1539h0M214 1515h0M494 1533h0M421 1544h0M378 1532h0M288 1514h0M522 1480h0M344 1479h0M312 1495h0M251 1529h0M276 1538h0M518 1436h0M345 1451h0M348 1533h0M378 1561h0M373 1463h0M492 1489h0M351 1531h0M282 1523h0M491 1464h0M213 1506h0M345 1478h0M394 1476h0M410 1518h0M373 1476h0M340 1536h0M205 1486h0M445 1587h0M418 1518h0M264 1507h0M337 1535h0M337 1603h0M476 1447h0M257 1520h0M446 1534h0M478 1540h0M585 1547h0M400 1571h0M320 1502h0M270 1529h0M398 1552h0M487 1541h0M468 1512h0M275 1545h0M449 1565h0M345 1505h0M328 1532h0M355 1514h0M382 1511h0M389 1500h0M224 1510h0M526 1493h0M440 1565h0M312 1529h0M158 1539h0M495 1527h0M184 1501h0M294 1524h0M385 1507h0M332 1493h0M410 1527h0M390 1503h0M403 1510h0M386 1515h0M301 1484h0M195 1475h0M215 1493h0M342 1481h0M397 1590h0M469 1481h0M351 1499h0M427 1471h0M387 1528h0M410 1535h0M373 1460h0M331 1488h0M407 1512h0M373 1557h0M350 1577h0M434 1470h0M308 1561h0M316 1561h0M310 1516h0M451 1467h0M367 1505h0M375 1578h0M403 1475h0M445 1505h0M375 1559h0M333 1552h0M376 1490h0M333 1474h0M464 1526h0M445 1483h0M435 1480h0M385 1520h0M308 1531h0M363 1491h0M294 1476h0M481 1525h0M328 1543h0M284 1481h0M391 1574h0M386 1525h0M514 1468h0M629 1483h0M354 1475h0M253 1512h0M575 1488h0M306 1529h0M270 1511h0M432 1446h0M333 1510h0M315 1516h0M202 1505h0M314 1485h0M471 1588h0M430 1491h0M485 1537h0M288 1541h0M309 1539h0M441 1559h0M267 1516h0M360 1479h0M397 1544h0M238 1501h0M263 1477h0M266 1567h0M302 1507h0M447 1555h0M484 1450h0M427 1460h0M304 1506h0M310 1587h0M345 1560h0M344 1518h0M405 1535h0M404 1461h0M405 1531h0M413 1518h0M396 1476h0M460 1479h0M483 1554h0M354 1510h0M428 1510h0M255 1529h0M252 1505h0M518 1548h0M320 1518h0M303 1520h0M232 1543h0M361 1499h0M306 1609h0M321 1504h0M309 1503h0M475 1543h0M397 1532h0M260 1438h0M493 1544h0M379 1530h0M378 1521h0M337 1444h0M410 1522h0M446 1530h0M335 1541h0M377 1505h0M327 1506h0M334 1505h0M446 1619h0M350 1558h0M186 1410h0M318 1515h0M295 1474h0M285 1503h0M374 1509h0M254 1507h0M493 1490h0M366 1554h0M289 1501h0M615 1562h0M314 1525h0M369 1525h0M401 1510h0M165 1487h0M373 1473h0M332 1571h0M381 1498h0M372 1556h0M209 1477h0M302 1505h0M352 1500h0M369 1523h0M257 1499h0M251 1530h0M383 1542h0M283 1502h0M165 1520h0M218 1532h0M455 1535h0M415 1528h0M393 1552h0M471 1589h0M337 1548h0M436 1535h0M384 1477h0M456 1490h0M303 1491h0M409 1487h0M400 1539h0M369 1508h0M412 1565h0M319 1484h0M307 1490h0M339 1515h0M288 1505h0M188 1453h0M271 1528h0M435 1459h0M380 1571h0M335 1551h0M387 1489h0M447 1499h0M391 1506h0M341 1525h0M476 1463h0M262 1523h0M446 1514h0M343 1538h0M498 1489h0M220 1510h0M427 1475h0M459 1552h0M429 1491h0M246 1542h0M383 1543h0M242 1420h0M458 1554h0M336 1520h0M400 1545h0M343 1503h0M274 1555h0M369 1404h0M390 1501h0M248 1503h0M248 1505h0M312 1537h0M271 1458h0M307 1473h0M425 1513h0M213 1490h0M358 1519h0M198 1516h0M386 1553h0M456 1516h0M246 1507h0M417 1489h0M470 1487h0M261 1548h0M351 1531h0M333 1521h0M309 1584h0M417 1516h0M401 1548h0M314 1526h0M378 1501h0M292 1513h0M334 1506h0M189 1523h0M417 1522h0M510 1549h0M329 1497h0M404 1507h0M218 1524h0M334 1512h0M414 1527h0M538 1495h0M351 1530h0M321 1503h0M513 1471h0M390 1461h0M390 1455h0M258 1558h0M495 1524h0M381 1483h0M329 1475h0M352 1517h0M371 1547h0M303 1445h0M257 1477h0M328 1505h0M356 1566h0M362 1484h0M333 1490h0M339 1540h0M261 1544h0M517 1571h0M502 1523h0M241 1588h0M355 1528h0M329 1488h0M414 1473h0M239 1539h0M327 1492h0M403 1568h0M335 1515h0M409 1552h0M451 1543h0M302 1538h0M361 1463h0M468 1539h0M480 1518h0M424 1518h0M374 1551h0M365 1541h0M357 1561h0M417 1464h0M505 1535h0M315 1499h0M534 1523h0M405 1540h0M308 1579h0M544 1494h0M459 1465h0M331 1522h0M365 1539h0M395 1533h0M348 1530h0M311 1586h0M365 1562h0M369 1515h0M344 1477h0M542 1534h0M371 1504h0M472 1509h0M320 1502h0M495 1530h0M347 1498h0M472 1530h0M331 1550h0M437 1487h0M461 1557h0M339 1475h0M456 1509h0M342 1510h0M337 1548h0M265 1538h0M461 1555h0M423 1529h0M343 1516h0M284 1576h0M350 1486h0M433 1571h0M385 1509h0M263 1542h0M339 1498h0M413 1477h0M425 1439h0M307 1472h0M339 1547h0M247 1566h0M301 1504h0M447 1496h0M487 1513h0M352 1488h0M460 1518h0M319 1488h0M306 1517h0M298 1547h0M358 1499h0M401 1568h0M181 1532h0M454 1525h0M432 1469h0M296 1554h0M353 1522h0M415 1532h0M400 1504h0M335 1564h0M319 1472h0M331 1550h0M516 1525h0M308 1540h0M387 1559h0M406 1545h0M405 1534h0M283 1515h0M499 1564h0M445 1533h0M352 1532h0M333 1556h0M335 1495h0M223 1572h0M297 1492h0M396 1580h0M419 1509h0M410 1493h0M340 1521h0M363 1546h0M408 1583h0M433 1511h0M384 1492h0M309 1509h0M449 1497h0M228 1487h0M259 1514h0M336 1481h0M294 1506h0M396 1540h0M476 1512h0M416 1523h0M269 1499h0M550 1515h0M504 1547h0M505 1514h0M442 1510h0M268 1481h0M400 1467h0M394 1491h0M393 1475h0M436 1513h0M232 1473h0M369 1466h0M391 1536h0M307 1566h0M486 1530h0M402 1536h0M341 1563h0M318 1437h0M365 1535h0M434 1484h0M482 1493h0M417 1544h0M378 1558h0M321 1588h0M405 1506h0M585 1520h0M225 1567h0M495 1501h0M279 1557h0M368 1488h0M322 1522h0M447 1572h0M311 1571h0M235 1544h0M352 1535h0M326 1497h0M388 1557h0M175 1522h0M329 1485h0M249 1537h0M411 1541h0M194 1470h0M311 1506h0M514 1507h0M374 1553h0M506 1532h0M393 1584h0M329 1461h0M300 1510h0M475 1531h0M466 1523h0M367 1501h0M259 1537h0M394 1539h0M318 1506h0M396 1540h0M533 1491h0M448 1549h0M341 1525h0M359 1571h0M580 1531h0M342 1552h0M406 1514h0M428 1549h0M330 1548h0M173 1477h0M337 1525h0M240 1569h0M332 1525h0M360 1545h0M314 1545h0M293 1471h0M407 1525h0M439 1456h0M373 1499h0M348 1507h0M332 1498h0M451 1463h0M221 1532h0M535 1495h0M287 1481h0M277 1562h0M422 1550h0M393 1528h0M314 1488h0M417 1602h0M332 1562h0M304 1521h0M508 1518h0M418 1501h0M524 1479h0M411 1512h0M380 1532h0M476 1549h0M453 1532h0M273 1565h0M495 1536h0M431 1512h0M241 1553h0M302 1584h0M422 1519h0M311 1524h0M278 1508h0M500 1510h0M520 1517h0M399 1489h0M338 1505h0M245 1584h0M414 1517h0M270 1521h0M274 1488h0M348 1592h0M215 1539h0M317 1423h0M243 1516h0M369 1495h0M515 1538h0M310 1465h0M378 1498h0M451 1485h0M465 1505h0M380 1511h0M417 1558h0M317 1490h0M525 1552h0M526 1552h0M375 1574h0M306 1506h0M329 1543h0M291 1514h0M291 1512h0M459 1557h0M344 1605h0M303 1535h0M322 1446h0M262 1561h0M222 1618h0M353 1529h0M470 1521h0M309 1500h0M283 1538h0M323 1537h0M235 1506h0M539 1532h0M354 1560h0M387 1571h0M264 1546h0M272 1543h0M573 1571h0M290 1534h0M402 1496h0M384 1484h0M445 1551h0M349 1543h0M567 1515h0M203 1531h0M324 1494h0M440 1554h0M414 1575h0M309 1506h0M399 1430h0M344 1522h0M280 1528h0M453 1499h0M411 1515h0M349 1524h0M492 1538h0M421 1525h0M178 1552h0M361 1523h0M319 1468h0M490 1581h0M497 1459h0M409 1481h0M346 1503h0M309 1494h0M321 1546h0M500 1551h0M361 1515h0M341 1519h0M309 1514h0M435 1513h0M292 1516h0M369 1517h0M339 1544h0M358 1486h0M411 1496h0M428 1547h0M403 1530h0M246 1513h0M373 1541h0M265 1515h0M230 1526h0M369 1524h0M504 1545h0M345 1501h0M323 1546h0M440 1503h0M352 1506h0M421 1526h0M300 1490h0M474 1473h0M206 1417h0M537 1502h0M435 1539h0M434 1558h0M321 1520h0M446 1539h0M296 1495h0M237 1529h0M316 1468h0M313 1531h0M377 1513h0M376 1542h0M258 1493h0M446 1545h0M240 1496h0M487 1545h0M349 1554h0M480 1567h0M241 1477h0M318 1518h0M331 1528h0M490 1557h0M447 1520h0M504 1535h0M383 1519h0M203 1592h0M360 1550h0M558 1514h0M261 1554h0M383 1488h0M445 1520h0M280 1435h0M275 1533h0M272 1553h0M553 1531h0M381 1517h0M436 1521h0M452 1568h0M436 1488h0M419 1511h0M389 1552h0M304 1527h0M489 1492h0M345 1544h0M342 1554h0M274 1470h0M394 1516h0M389 1552h0M453 1509h0M328 1455h0M277 1528h0M381 1471h0M430 1519h0M457 1508h0M446 1483h0M201 1493h0M422 1534h0M198 1525h0M420 1576h0M448 1542h0M203 1536h0M163 1508h0M329 1479h0M262 1514h0M427 1493h0M398 1551h0M364 1602h0M335 1489h0M170 1566h0M437 1512h0M399 1515h0M457 1520h0M390 1517h0M275 1425h0M423 1467h0M408 1547h0M562 1488h0M382 1561h0M297 1495h0M413 1608h0M479 1561h0M267 1548h0M485 1466h0M368 1512h0M434 1446h0M440 1520h0M339 1430h0M434 1538h0M445 1448h0M388 1578h0M206 1548h0M291 1544h0M377 1451h0M258 1574h0M355 1573h0M402 1558h0M326 1529h0M328 1559h0M307 1567h0M530 1468h0M349 1543h0M551 1569h0M376 1446h0M454 1495h0M387 1537h0M220 1565h0M462 1545h0M429 1535h0M221 1498h0M451 1506h0M369 1536h0M376 1531h0M417 1520h0M252 1509h0M466 1491h0M415 1533h0M275 1400h0M365 1487h0M301 1560h0M287 1535h0M379 1529h0M573 1436h0M467 1514h0M338 1492h0M371 1522h0M271 1590h0M290 1514h0M235 1527h0M404 1566h0M468 1499h0M533 1516h0M528 1593h0M325 1474h0M423 1581h0M408 1567h0M428 1558h0M504 1508h0M220 1515h0M285 1470h0M349 1550h0M175 1456h0M449 1482h0M326 1577h0M483 1535h0M422 1405h0M424 1536h0M222 1528h0M414 1515h0M448 1557h0M372 1510h0M244 1568h0M307 1534h0M525 1553h0M235 1516h0M293 1450h0M283 1545h0M401 1511h0M384 1471h0M287 1513h0M449 1507h0M349 1534h0M518 1467h0M421 1528h0M359 1531h0M161 1521h0M342 1468h0M454 1515h0M331 1552h0M271 1490h0M452 1557h0M575 1501h0M216 1457h0M242 1525h0M342 1492h0M262 1491h0M328 1570h0M431 1578h0M451 1552h0M488 1539h0M525 1568h0M554 1529h0M286 1627h0M337 1542h0M327 1491h0M411 1473h0M350 1580h0M379 1555h0M432 1536h0M377 1546h0M266 1545h0M255 1488h0M305 1463h0M162 1536h0M418 1548h0M595 1527h0M443 1488h0M439 1472h0M570 1479h0M323 1552h0M267 1528h0M467 1527h0M463 1499h0M427 1428h0M522 1492h0M276 1521h0M542 1490h0M363 1505h0M269 1465h0M427 1550h0M288 1530h0M412 1536h0M348 1522h0M394 1475h0M351 1554h0M308 1576h0M341 1473h0M335 1463h0M429 1453h0M367 1510h0M334 1538h0M395 1496h0M450 1501h0M458 1577h0M404 1559h0M227 1544h0M211 1513h0M438 1406h0M285 1487h0M268 1521h0M431 1471h0M301 1441h0M292 1431h0M210 1540h0M456 1486h0M402 1487h0M476 1594h0M299 1500h0M527 1587h0M364 1547h0M201 1507h0M336 1514h0M396 1454h0M257 1611h0M186 1523h0M441 1541h0M371 1452h0M317 1454h0M568 1535h0M441 1529h0M325 1570h0M457 1547h0M426 1551h0M336 1538h0M374 1509h0M432 1611h0M320 1571h0M260 1512h0M471 1517h0M401 1469h0M246 1591h0M381 1516h0M222 1476h0M258 1518h0M353 1494h0M296 1525h0M486 1461h0M218 1568h0M217 1503h0M377 1597h0M357 1566h0M380 1486h0M385 1433h0M450 1583h0M344 1555h0M256 1583h0M298 1486h0M286 1445h0M435 1605h0M217 1512h0M412 1496h0M203 1534h0M469 1524h0M254 1507h0M165 1518h0M491 1567h0M356 1538h0M311 1526h0M303 1527h0M311 1528h0M437 1519h0M231 1541h0M340 1499h0M423 1485h0M462 1544h0M294 1490h0M353 1482h0M463 1424h0M380 1505h0M252 1547h0M315 1539h0M320 1508h0M419 1561h0M468 1519h0M518 1506h0M224 1441h0M216 1483h0M181 1534h0M368 1519h0M390 1515h0M339 1507h0M369 1472h0M497 1586h0M369 1617h0M265 1558h0M198 1546h0M288 1563h0M377 1560h0M428 1542h0M337 1588h0M402 1541h0M513 1509h0M545 1566h0M373 1458h0M491 1507h0M375 1525h0M464 1547h0M177 1492h0M401 1527h0M447 1544h0M533 1489h0M500 1536h0M396 1549h0M331 1551h0M344 1551h0M287 1570h0M208 1492h0M360 1530h0M283 1503h0M392 1565h0M499 1500h0M359 1507h0M208 1501h0M482 1463h0M661 1562h0M544 1528h0M530 1496h0M496 1552h0M446 1552h0M426 1548h0M489 1538h0M431 1538h0M380 1483h0M180 1477h0M238 1457h0M437 1506h0M445 1500h0M405 1511h0M395 1609h0M531 1575h0M395 1596h0M451 1558h0M245 1494h0M383 1511h0M312 1435h0M289 1516h0M398 1474h0M352 1597h0M382 1436h0M347 1520h0M497 1528h0M508 1534h0M487 1578h0M524 1529h0M240 1529h0M415 1490h0M451 1513h0M448 1528h0M270 1565h0M573 1560h0M395 1447h0M399 1519h0M284 1438h0M412 1562h0M439 1618h0M170 1535h0M363 1581h0M363 1479h0M360 1539h0M290 1487h0M393 1558h0M342 1541h0M314 1506h0M386 1562h0M530 1515h0M412 1604h0M452 1505h0M408 1459h0M293 1463h0M472 1501h0M375 1523h0M345 1470h0M565 1435h0M363 1550h0M345 1516h0M398 1530h0M332 1566h0M418 1585h0M376 1435h0M196 1498h0M413 1450h0M309 1574h0M401 1490h0M355 1525h0M323 1507h0M301 1530h0M529 1583h0M239 1620h0M354 1460h0M214 1526h0M390 1493h0M284 1511h0M393 1549h0M424 1418h0M306 1531h0M405 1555h0M214 1587h0M245 1512h0M319 1500h0M287 1555h0M447 1535h0M237 1493h0M361 1537h0M310 1509h0M635 1523h0M336 1415h0M290 1590h0M453 1469h0M447 1528h0M286 1554h0M305 1507h0M369 1529h0M322 1533h0M367 1529h0M407 1493h0M227 1517h0M493 1534h0M390 1489h0M250 1467h0M273 1504h0M210 1515h0M207 1548h0M364 1445h0M311 1530h0M406 1553h0M331 1514h0M343 1544h0M296 1513h0M382 1505h0M257 1578h0M418 1481h0M567 1488h0M278 1505h0M421 1584h0M506 1544h0M374 1549h0M287 1490h0M421 1529h0M391 1477h0M392 1459h0M461 1521h0M301 1500h0M296 1579h0M369 1531h0M270 1464h0M391 1501h0M418 1566h0M355 1543h0M385 1530h0M314 1531h0M411 1524h0M321 1458h0M259 1587h0M470 1533h0M397 1514h0M436 1561h0M342 1534h0M464 1453h0M272 1496h0M249 1502h0M281 1503h0M416 1470h0M377 1579h0M386 1468h0M306 1570h0M340 1493h0M446 1490h0M254 1547h0M369 1493h0M414 1568h0M477 1525h0M413 1542h0M217 1592h0M300 1496h0M284 1479h0M478 1521h0M309 1442h0M384 1518h0M263 1516h0M182 1548h0M244 1542h0M377 1429h0M254 1492h0M447 1546h0M431 1592h0M338 1499h0M177 1476h0M424 1484h0M279 1561h0M498 1444h0M415 1520h0M459 1506h0M355 1581h0M307 1538h0M431 1516h0M456 1543h0M451 1447h0M263 1533h0M485 1582h0M369 1488h0M257 1437h0M317 1545h0M360 1457h0M357 1523h0M292 1583h0M411 1568h0M377 1479h0M476 1568h0M308 1463h0M450 1496h0M250 1517h0M423 1488h0M371 1563h0M443 1454h0M439 1597h0M460 1517h0M404 1453h0M308 1498h0M576 1521h0M269 1593h0M491 1450h0M347 1448h0M472 1423h0M554 1475h0M262 1611h0M421 1536h0M454 1478h0M455 1508h0M420 1530h0M507 1465h0M227 1548h0M605 1544h0M350 1549h0M246 1524h0M198 1526h0M440 1593h0M317 1560h0M502 1476h0M340 1441h0M279 1539h0M163 1508h0M440 1582h0M305 1422h0M265 1546h0M365 1551h0M337 1549h0M269 1479h0M351 1445h0M491 1510h0M269 1483h0M270 1526h0M330 1558h0M251 1517h0M216 1500h0M503 1515h0M456 1518h0M257 1483h0M254 1535h0M535 1557h0M269 1525h0M276 1622h0M295 1571h0M231 1553h0M244 1500h0M384 1526h0M361 1518h0M281 1516h0M360 1480h0M424 1528h0M291 1577h0M309 1438h0M494 1504h0M514 1539h0M278 1569h0M413 1560h0M371 1588h0M460 1506h0M216 1519h0M374 1478h0M348 1585h0M319 1569h0M273 1478h0M461 1513h0M389 1565h0M530 1467h0M425 1530h0M381 1598h0M342 1495h0M417 1433h0M404 1482h0M399 1488h0M418 1510h0M295 1544h0M442 1451h0M237 1509h0M328 1578h0M526 1541h0M476 1506h0M229 1533h0M190 1591h0M392 1571h0M302 1450h0M346 1542h0M345 1498h0M374 1512h0M506 1464h0M394 1454h0M362 1539h0M400 1533h0M291 1458h0M462 1505h0M229 1588h0M441 1399h0M626 1527h0M204 1562h0M399 1574h0M368 1448h0M350 1502h0M395 1512h0M423 1467h0M311 1498h0M408 1446h0M366 1624h0M185 1565h0M376 1563h0M372 1532h0M403 1540h0M245 1515h0M549 1582h0M281 1479h0M349 1566h0M458 1495h0M199 1572h0M515 1549h0M426 1545h0M551 1567h0M511 1470h0M314 1520h0M364 1517h0M620 1511h0M346 1515h0M332 1459h0M479 1521h0M402 1522h0M288 1451h0M337 1543h0M354 1552h0M286 1507h0M381 1516h0M383 1582h0M324 1526h0M300 1544h0M388 1488h0M264 1468h0M337 1527h0M316 1515h0M379 1622h0M484 1621h0M379 1530h0M562 1537h0M432 1498h0M311 1554h0M305 1491h0M215 1533h0M356 1544h0M278 1466h0M477 1521h0M445 1470h0M235 1410h0M396 1563h0M499 1597h0M182 1473h0M312 1486h0M344 1485h0M218 1518h0M378 1487h0M369 1464h0M332 1506h0M319 1517h0M238 1462h0M282 1552h0M270 1479h0M565 1509h0M327 1482h0M514 1543h0M392 1589h0M245 1447h0M477 1539h0M313 1555h0M356 1605h0M237 1536h0M464 1559h0M329 1503h0M321 1550h0M325 1514h0M469 1515h0M390 1515h0M366 1424h0M270 1536h0M301 1493h0M370 1620h0M288 1479h0M184 1540h0M359 1484h0M324 1563h0M468 1536h0M482 1564h0M319 1555h0M381 1553h0M393 1613h0M238 1536h0M256 1621h0M313 1504h0" fill="none" stroke="#000" stroke-width="8" stroke-linecap="square" stroke-opacity="0.50" filter="url(#db)"/>
<rect class="ax" style="stroke-width:1.5" x="14.9" y="104.9" width="64.4" height="59"/>
<path class="ax" style="stroke-width:1.5" d="M38 104.9V163.9M14.9 139.2H79.3"/>
<path class="ax" d="M6.2 59V173.3H34"/>
<path d="M6.2 55.8L4.3 60.2H8.1zM37.6 173.3L33.2 171.4V175.2z" fill="#000"/>
</g>
<g id="panelB">
<text class="p" x="96.5" y="12.9">B</text>
<path class="ax" d="M137.7 46V151H261.5"/>
<path class="ax" d="M135.3 145.4H137.8"/>
<text class="t" x="121.8" y="149.5" text-anchor="middle">0</text>
<path class="ax" d="M135.3 125.7H137.8"/>
<text class="t" x="121.8" y="129.7" text-anchor="middle">20</text>
<path class="ax" d="M135.3 105.9H137.8"/>
<text class="t" x="121.8" y="110.0" text-anchor="middle">40</text>
<path class="ax" d="M135.3 86.2H137.8"/>
<text class="t" x="121.8" y="90.2" text-anchor="middle">60</text>
<path class="ax" d="M135.3 66.4H137.8"/>
<text class="t" x="121.8" y="70.5" text-anchor="middle">80</text>
<path class="ax" d="M135.3 46.7H137.8"/>
<text class="t" x="121.8" y="50.7" text-anchor="middle">100</text>
<path class="ax" d="M153.6 151V153.6"/>
<text class="t" x="153.2" y="166.7" text-anchor="middle">0</text>
<path class="ax" d="M189.2 151V153.6"/>
<text class="t" x="188.8" y="166.7" text-anchor="middle">20</text>
<path class="ax" d="M224.8 151V153.6"/>
<text class="t" x="224.4" y="166.7" text-anchor="middle">40</text>
<path class="ax" d="M260.4 151V153.6"/>
<text class="t" x="260.0" y="166.7" text-anchor="middle">60</text>
<text class="l" x="211.8" y="178" text-anchor="middle">Ascites (%)</text>
<text class="l" transform="translate(108.2,93.6) rotate(-90)" text-anchor="middle">Migration index</text>
<circle cx="148.3" cy="28" r="3.6" fill="#fff" stroke="#000" stroke-width="1.2"/>
<text class="l" x="155.4" y="31.6">Control</text>
<ellipse cx="148.2" cy="40.4" rx="4.8" ry="3.9" fill="#000"/>
<text class="l" x="155.4" y="44.8">Anti-CXCR3</text>
<path class="ax" stroke-width="1.3" d="M153.5 145.1L190.8 113.8C203 102 208 72 225.3 66C236 62 245 59.5 253.6 56.5"/>
<path class="ax" stroke-dasharray="1.6 1.4" d="M153.5 145.4C167 145.6 180 143 190.6 139.5C203 135 214 129.5 226 122.4C236 116 245 108 253.8 99.5"/>
<path class="ax" style="stroke-width:1.5" d="M190.8 105.0V122.0M188.2 105.0H193.4M188.2 122.0H193.4"/>
<path class="ax" style="stroke-width:1.5" d="M225.3 57.8V74.0M222.7 57.8H227.9M222.7 74.0H227.9"/>
<path class="ax" style="stroke-width:1.5" d="M253.6 44.3V68.6M251.0 44.3H256.2M251.0 68.6H256.2"/>
<path class="ax" style="stroke-width:1.5" d="M190.6 134.6V144.0M188.0 134.6H193.2M188.0 144.0H193.2"/>
<path class="ax" style="stroke-width:1.5" d="M226.0 116.2V127.8M223.4 116.2H228.6M223.4 127.8H228.6"/>
<path class="ax" style="stroke-width:1.5" d="M253.8 92.2V106.5M251.2 92.2H256.4M251.2 106.5H256.4"/>
<circle cx="153.5" cy="145.1" r="3.7" fill="#fff" stroke="#000" stroke-width="1.2"/>
<circle cx="190.8" cy="113.8" r="3.7" fill="#fff" stroke="#000" stroke-width="1.2"/>
<circle cx="225.3" cy="66.0" r="3.7" fill="#fff" stroke="#000" stroke-width="1.2"/>
<circle cx="253.6" cy="56.5" r="3.7" fill="#fff" stroke="#000" stroke-width="1.2"/>
<circle cx="190.6" cy="139.5" r="4.2" fill="#000"/>
<circle cx="226.0" cy="122.4" r="4.2" fill="#000"/>
<circle cx="253.8" cy="99.5" r="4.2" fill="#000"/>
<path class="ax" d="M151.2 147.2L156 143.1"/>
</g>
<g id="panelC">
<text class="p" x="294.4" y="13.6">C</text>
<text class="l" x="350" y="9.6"><tspan font-style="italic">P</tspan> &lt; .001, N = 46, R = 0.96</text>
<path class="ax" d="M344.1 17.8V134.2M351.4 141.9H509"/>
<path class="ax" d="M341.3 132.8H344.1"/>
<text class="t" x="326" y="136.9" text-anchor="middle">0</text>
<path class="ax" d="M341.3 109.9H344.1"/>
<text class="t" x="326" y="114.0" text-anchor="middle">200</text>
<path class="ax" d="M341.3 87.0H344.1"/>
<text class="t" x="326" y="91.0" text-anchor="middle">400</text>
<path class="ax" d="M341.3 64.1H344.1"/>
<text class="t" x="326" y="68.2" text-anchor="middle">600</text>
<path class="ax" d="M341.3 41.2H344.1"/>
<text class="t" x="326" y="45.2" text-anchor="middle">800</text>
<path class="ax" d="M341.3 18.3H344.1"/>
<text class="t" x="326" y="22.4" text-anchor="middle">1000</text>
<path class="ax" d="M351.8 141.8V144.3"/>
<text class="t" x="351.8" y="159.3" text-anchor="middle">0</text>
<path class="ax" d="M391.0 141.8V144.3"/>
<text class="t" x="391.0" y="159.3" text-anchor="middle">50</text>
<path class="ax" d="M430.2 141.8V144.3"/>
<text class="t" x="430.2" y="159.3" text-anchor="middle">100</text>
<path class="ax" d="M469.4 141.8V144.3"/>
<text class="t" x="469.4" y="159.3" text-anchor="middle">150</text>
<path class="ax" d="M508.6 141.8V144.3"/>
<text class="t" x="508.6" y="159.3" text-anchor="middle">200</text>
<text class="l" transform="translate(305,74.8) rotate(-90)" text-anchor="middle">CXCL9 (U)</text>
<text class="l" x="438.5" y="176.3" text-anchor="middle">CD8 (/mm<tspan dy="-3.6" font-size="8">2</tspan><tspan dy="3.6">)</tspan></text>
<circle class="d" cx="502.7" cy="5.4" r="3.25"/>
<circle class="d" cx="432.7" cy="38.1" r="3.25"/>
<circle class="d" cx="467.6" cy="34.6" r="3.25"/>
<circle class="d" cx="471.6" cy="38.4" r="3.25"/>
<circle class="d" cx="421.4" cy="50.5" r="3.25"/>
<circle class="d" cx="417.6" cy="54.3" r="3.25"/>
<circle class="d" cx="437.8" cy="55.1" r="3.25"/>
<circle class="d" cx="471.1" cy="54.9" r="3.25"/>
<circle class="d" cx="471.1" cy="66.8" r="3.25"/>
<circle class="d" cx="416.8" cy="70.8" r="3.25"/>
<circle class="d" cx="427.3" cy="68.6" r="3.25"/>
<circle class="d" cx="431.6" cy="72.4" r="3.25"/>
<circle class="d" cx="437.8" cy="68.1" r="3.25"/>
<circle class="d" cx="413.2" cy="85.7" r="3.25"/>
<circle class="d" cx="420.8" cy="84.6" r="3.25"/>
<circle class="d" cx="430.3" cy="84.6" r="3.25"/>
<circle class="d" cx="392.7" cy="87.3" r="3.25"/>
<circle class="d" cx="376.5" cy="116.6" r="3.25"/>
<circle class="d" cx="381.9" cy="117.4" r="3.25"/>
<circle class="d" cx="370.5" cy="123.6" r="3.25"/>
<circle class="d" cx="366.5" cy="125.5" r="3.25"/>
<circle class="d" cx="363.5" cy="127.7" r="3.25"/>
<circle class="d" cx="352.7" cy="133.1" r="3.25"/>
<circle class="d" cx="354.9" cy="131.0" r="3.25"/>
<circle class="d" cx="357.0" cy="129.0" r="3.25"/>
<circle class="d" cx="359.0" cy="127.2" r="3.25"/>
<circle class="d" cx="360.8" cy="128.8" r="3.25"/>
<circle class="d" cx="359.7" cy="131.0" r="3.25"/>
<circle class="d" cx="357.6" cy="132.3" r="3.25"/>
<circle class="d" cx="361.6" cy="130.4" r="3.25"/>
<circle class="d" cx="356.0" cy="130.2" r="3.25"/>
<circle class="d" cx="362.5" cy="126.5" r="3.25"/>
<circle class="d" cx="364.5" cy="126.0" r="3.25"/>
<path class="ax" style="stroke-width:1.8" d="M351.6 135L504 11.4"/>
</g>
<g id="panelD">
<text class="p" x="2.2" y="205.4">D</text>
<text class="l" x="75.2" y="202.5"><tspan font-style="italic">P</tspan> &lt; .001, N = 46, R = 0.7</text>
<path class="ax" d="M52.7 205.5V321.5M61.6 330H218"/>
<path class="ax" d="M49.7 206.1H52.7"/>
<text class="t" x="34.8" y="210.2" text-anchor="middle">160</text>
<path class="ax" d="M49.7 222.4H52.7"/>
<text class="t" x="34.8" y="226.5" text-anchor="middle">140</text>
<path class="ax" d="M49.7 238.8H52.7"/>
<text class="t" x="34.8" y="242.9" text-anchor="middle">120</text>
<path class="ax" d="M49.7 255.2H52.7"/>
<text class="t" x="34.8" y="259.2" text-anchor="middle">80</text>
<path class="ax" d="M49.7 271.5H52.7"/>
<text class="t" x="34.8" y="275.6" text-anchor="middle">60</text>
<path class="ax" d="M49.7 287.9H52.7"/>
<text class="t" x="34.8" y="291.9" text-anchor="middle">40</text>
<path class="ax" d="M49.7 304.2H52.7"/>
<text class="t" x="34.8" y="308.2" text-anchor="middle">20</text>
<path class="ax" d="M49.7 320.6H52.7"/>
<text class="t" x="34.8" y="324.6" text-anchor="middle">0</text>
<path class="ax" d="M61.6 330V332.5"/>
<text class="t" x="61.6" y="347" text-anchor="middle">0</text>
<path class="ax" d="M100.6 330V332.5"/>
<text class="t" x="100.6" y="347" text-anchor="middle">50</text>
<path class="ax" d="M139.6 330V332.5"/>
<text class="t" x="139.6" y="347" text-anchor="middle">100</text>
<path class="ax" d="M178.6 330V332.5"/>
<text class="t" x="178.6" y="347" text-anchor="middle">150</text>
<path class="ax" d="M217.6 330V332.5"/>
<text class="t" x="217.6" y="347" text-anchor="middle">200</text>
<text class="l" transform="translate(14.1,264.4) rotate(-90)" text-anchor="middle">CXCL10 (U)</text>
<text class="l" x="148" y="365.4" text-anchor="middle">CD8 (/mm<tspan dy="-3.6" font-size="8">2</tspan><tspan dy="3.6">)</tspan></text>
<circle class="d" cx="181.1" cy="219.6" r="3.25"/>
<circle class="d" cx="212.2" cy="219.6" r="3.25"/>
<circle class="d" cx="126.8" cy="234.5" r="3.25"/>
<circle class="d" cx="141.1" cy="234.5" r="3.25"/>
<circle class="d" cx="181.1" cy="251.8" r="3.25"/>
<circle class="d" cx="177.6" cy="257.4" r="3.25"/>
<circle class="d" cx="181.1" cy="265.5" r="3.25"/>
<circle class="d" cx="127.3" cy="257.4" r="3.25"/>
<circle class="d" cx="131.1" cy="267.2" r="3.25"/>
<circle class="d" cx="137.0" cy="284.4" r="3.25"/>
<circle class="d" cx="143.0" cy="282.9" r="3.25"/>
<circle class="d" cx="147.6" cy="281.8" r="3.25"/>
<circle class="d" cx="102.7" cy="250.7" r="3.25"/>
<circle class="d" cx="86.5" cy="259.3" r="3.25"/>
<circle class="d" cx="80.5" cy="273.7" r="3.25"/>
<circle class="d" cx="73.5" cy="282.0" r="3.25"/>
<circle class="d" cx="91.4" cy="282.0" r="3.25"/>
<circle class="d" cx="70.3" cy="290.5" r="3.25"/>
<circle class="d" cx="70.3" cy="298.6" r="3.25"/>
<circle class="d" cx="77.8" cy="298.6" r="3.25"/>
<circle class="d" cx="65.7" cy="307.3" r="3.25"/>
<circle class="d" cx="69.7" cy="307.3" r="3.25"/>
<circle class="d" cx="68.9" cy="313.8" r="3.25"/>
<circle class="d" cx="74.3" cy="317.3" r="3.25"/>
<circle class="d" cx="70.8" cy="318.1" r="3.25"/>
<circle class="d" cx="62.7" cy="320.0" r="3.25"/>
<circle class="d" cx="64.9" cy="319.5" r="3.25"/>
<circle class="d" cx="67.0" cy="318.6" r="3.25"/>
<circle class="d" cx="123.0" cy="307.3" r="3.25"/>
<circle class="d" cx="140.5" cy="307.3" r="3.25"/>
<circle class="d" cx="131.1" cy="314.6" r="3.25"/>
<circle class="d" cx="66.0" cy="316.0" r="3.25"/>
<circle class="d" cx="72.5" cy="316.0" r="3.25"/>
<path class="ax" style="stroke-width:1.8" d="M70 316.6L218.1 210.1"/>
</g>
<g id="panelE">
<text class="p" x="260.3" y="205.7">E</text>
<text class="l" x="283.8" y="206.6">Low IL-17</text>
<text class="l" x="403" y="206.6">High IL-17</text>
<defs>
<filter id="bl1" x="-20%" y="-20%" width="140%" height="140%"><feGaussianBlur stdDeviation="1.1"/></filter>
<filter id="bl2" x="-30%" y="-30%" width="160%" height="160%"><feGaussianBlur stdDeviation="2.2"/></filter>
<filter id="bl4" x="-40%" y="-40%" width="180%" height="180%"><feGaussianBlur stdDeviation="4.5"/></filter>
<filter id="bl6" x="-60%" y="-60%" width="220%" height="220%"><feGaussianBlur stdDeviation="6"/></filter>
<filter id="bl05" x="-20%" y="-20%" width="140%" height="140%"><feGaussianBlur stdDeviation="0.6"/></filter>
<filter id="gtex" x="-10%" y="-10%" width="120%" height="120%">
<feTurbulence type="fractalNoise" baseFrequency="0.09" numOctaves="2" seed="4" result="dn"/>
<feDisplacementMap in="SourceGraphic" in2="dn" scale="9" xChannelSelector="R" yChannelSelector="G" result="ds"/>
<feGaussianBlur in="ds" stdDeviation="1.1" result="b"/>
<feTurbulence type="turbulence" baseFrequency="0.14" numOctaves="2" seed="8" result="n"/>
<feColorMatrix in="n" type="matrix" values="0 0 0 0 0  0 0 0 0 0  0 0 0 0 0  0 -5 0 0 1.75" result="na"/>
<feComposite in="b" in2="na" operator="in" result="bright"/>
<feColorMatrix in="b" type="matrix" values="0.42 0 0 0 0  0 0.4 0 0 0  0 0 0.4 0 0  0 0 0 1 0" result="dim"/>
<feMerge><feMergeNode in="dim"/><feMergeNode in="bright"/></feMerge>
</filter>
<filter id="hol" x="-30%" y="-30%" width="160%" height="160%">
<feTurbulence type="fractalNoise" baseFrequency="0.09" numOctaves="2" seed="4" result="dn"/>
<feDisplacementMap in="SourceGraphic" in2="dn" scale="9" xChannelSelector="R" yChannelSelector="G" result="ds"/>
<feGaussianBlur in="ds" stdDeviation="1"/>
</filter>
<filter id="fib" x="0" y="0" width="100%" height="100%">
<feTurbulence type="turbulence" baseFrequency="0.1 0.16" numOctaves="2" seed="21" result="n"/>
<feColorMatrix in="n" type="matrix" values="0 0 0 0 0  0 0 0 0 0  0 0 0 0 0  0 -4 0 0 1.3" result="na"/>
<feGaussianBlur in="na" stdDeviation="0.8" result="nb"/>
<feComposite in="SourceGraphic" in2="nb" operator="in"/>
</filter>
<filter id="mot2" x="0" y="0" width="100%" height="100%">
<feTurbulence type="fractalNoise" baseFrequency="0.17" numOctaves="2" seed="11" result="n"/>
<feColorMatrix in="n" type="matrix" values="0 0 0 0 0  0 0 0 0 0  0 0 0 0 0  0 -2.6 0 0 1.6" result="na"/>
<feGaussianBlur in="na" stdDeviation="0.7" result="nb"/>
<feComposite in="SourceGraphic" in2="nb" operator="in"/>
</filter>
<filter id="irr" x="-20%" y="-20%" width="140%" height="140%">
<feTurbulence type="fractalNoise" baseFrequency="0.11" numOctaves="1" seed="3" result="n"/>
<feDisplacementMap in="SourceGraphic" in2="n" scale="12" xChannelSelector="R" yChannelSelector="G" result="d"/>
<feGaussianBlur in="d" stdDeviation="0.9"/>
</filter>
<clipPath id="cL"><rect x="281.1" y="212" width="83.4" height="70.5"/></clipPath>
<clipPath id="cH"><rect x="400.2" y="212" width="82.8" height="70.5"/></clipPath>
<clipPath id="cL1"><rect x="365.6" y="211.2" width="30.3" height="23"/></clipPath>
<clipPath id="cL2"><rect x="365.6" y="235.6" width="30.3" height="22.6"/></clipPath>
<clipPath id="cL3"><rect x="365.6" y="259.6" width="30.3" height="22.9"/></clipPath>
<clipPath id="cH1"><rect x="484.3" y="211.2" width="30.8" height="23"/></clipPath>
<clipPath id="cH2"><rect x="484.3" y="235.6" width="30.8" height="22.6"/></clipPath>
<clipPath id="cH3"><rect x="484.3" y="259.6" width="30.8" height="22.9"/></clipPath>
</defs>
<g clip-path="url(#cL)">
<rect x="281" y="211" width="84" height="72" fill="#3a3011"/>
<g filter="url(#bl4)"><ellipse cx="338" cy="246" rx="24" ry="30" fill="#2f4211"/><ellipse cx="297" cy="222" rx="12" ry="7" fill="#2f4211"/><ellipse cx="292" cy="272" rx="12" ry="9" fill="#2f5514"/></g>
<g filter="url(#gtex)">
<path fill="#4ade2e" d="M318 212H366V236C362 246 357 256 354 266L350 281H333C329 273 325 263 321 252S314 232 311 220Z"/>
<ellipse cx="363.5" cy="278" rx="3" ry="4" fill="#43c82a"/></g>
<g filter="url(#bl2)"><ellipse cx="293.8" cy="271.5" rx="8" ry="5.5" fill="#3fc02a"/><ellipse cx="288" cy="278" rx="5" ry="3.5" fill="#35a024"/></g>
<g filter="url(#bl1)"><ellipse cx="296" cy="272" rx="4" ry="3" fill="#4ad030" opacity=".8"/><ellipse cx="289" cy="270" rx="2.5" ry="2" fill="#4ad030" opacity=".7"/></g>
<g filter="url(#hol)" fill="#2e2b0d" stroke="#2e2b0d"><path d="M329.5 232L337.5 256" stroke-width="8.5" stroke-linecap="round" fill="none"/><ellipse cx="338.5" cy="256" rx="6.2" ry="9" transform="rotate(12 338.5 256)"/><ellipse cx="346" cy="226" rx="2" ry="1.5"/><ellipse cx="355" cy="229" rx="1.5" ry="1.5"/><ellipse cx="337" cy="220" rx="1.6" ry="1.3"/><ellipse cx="324" cy="214.5" rx="3.5" ry="3"/><ellipse cx="292" cy="268" rx="2" ry="1.6"/><ellipse cx="351" cy="245" rx="1.4" ry="3"/></g>
<g filter="url(#bl05)" fill="#d8402a" opacity=".88"><ellipse cx="291" cy="262.8" rx="3.2" ry="1.5" transform="rotate(-20 291 262.8)"/><ellipse cx="304" cy="266.5" rx="2.4" ry="1.4" transform="rotate(30 304 266.5)"/><ellipse cx="309.3" cy="257" rx="2.2" ry="1.6" fill="#a03a1c"/></g>
</g>
<g clip-path="url(#cL1)"><rect x="365" y="211" width="32" height="24" fill="#3c0b0b"/><g filter="url(#bl1)"><ellipse cx="380" cy="220.5" rx="4" ry="1.5" fill="#d02a2a" transform="rotate(-15 380 220.5)"/><ellipse cx="394.5" cy="223.5" rx="2" ry="2.5" fill="#b02222"/><ellipse cx="371" cy="216" rx="3" ry="2" fill="#6a1414"/></g></g>
<g clip-path="url(#cL2)"><rect x="365" y="235" width="32" height="24" fill="#175218"/><g filter="url(#bl2)"><ellipse cx="382" cy="248" rx="9" ry="5" fill="#38b038"/></g></g>
<g clip-path="url(#cL3)"><rect x="365" y="259" width="32" height="24" fill="#3a3312"/><g filter="url(#bl1)"><ellipse cx="383" cy="278" rx="9" ry="5" fill="#3aa028"/><ellipse cx="378" cy="265.3" rx="4.5" ry="1.8" fill="#e03a28" transform="rotate(-15 378 265.3)"/><ellipse cx="393" cy="268" rx="2" ry="2" fill="#a03020"/></g></g>
<g clip-path="url(#cH)">
<rect x="400" y="211" width="84" height="72" fill="#1f7017"/>
<g filter="url(#bl6)"><ellipse cx="457" cy="255" rx="15" ry="17" fill="#0c300a"/><ellipse cx="458" cy="217" rx="20" ry="7" fill="#113c0e"/><ellipse cx="409" cy="272" rx="12" ry="8" fill="#16500f"/><ellipse cx="472" cy="277" rx="10" ry="6" fill="#16500f"/><ellipse cx="416" cy="243" rx="15" ry="8" fill="#2f9a22"/><ellipse cx="468" cy="237" rx="9" ry="12" fill="#33a225"/></g>
<g filter="url(#bl4)"><ellipse cx="459" cy="259" rx="7" ry="8" fill="#0e340c"/><ellipse cx="404" cy="216" rx="7" ry="6" fill="#46c42c"/><ellipse cx="474" cy="238" rx="6" ry="9" fill="#3fae28"/><ellipse cx="432" cy="244" rx="10" ry="6" fill="#36962a"/></g>
<rect x="400" y="211" width="84" height="72" fill="#0c3a0a" filter="url(#mot2)" opacity="0.6"/>
<rect x="400" y="211" width="84" height="72" fill="#40b82e" filter="url(#fib)" opacity="0.28"/>
<g filter="url(#bl2)" opacity="0.55">
<ellipse cx="407.5" cy="228.8" rx="7.5" ry="4.6" fill="#9a8a20" transform="rotate(-15 407.5 228.8)"/>
<ellipse cx="413.0" cy="225.0" rx="4.0" ry="4.0" fill="#9a8a20" transform="rotate(0 413.0 225.0)"/>
<ellipse cx="423.0" cy="220.5" rx="5.5" ry="3.6" fill="#9a8a20" transform="rotate(25 423.0 220.5)"/>
<ellipse cx="426.2" cy="227.8" rx="3.6" ry="4.2" fill="#9a8a20" transform="rotate(0 426.2 227.8)"/>
<ellipse cx="441.8" cy="232.0" rx="5.0" ry="4.0" fill="#9a8a20" transform="rotate(-20 441.8 232.0)"/>
<ellipse cx="437.0" cy="228.0" rx="3.5" ry="3.0" fill="#9a8a20" transform="rotate(0 437.0 228.0)"/>
<ellipse cx="467.3" cy="223.6" rx="3.6" ry="4.6" fill="#9a8a20" transform="rotate(0 467.3 223.6)"/>
<ellipse cx="412.7" cy="251.3" rx="3.8" ry="3.2" fill="#9a8a20" transform="rotate(0 412.7 251.3)"/>
<ellipse cx="422.0" cy="258.4" rx="5.2" ry="4.4" fill="#9a8a20" transform="rotate(30 422.0 258.4)"/>
<ellipse cx="444.0" cy="262.6" rx="4.0" ry="4.0" fill="#9a8a20" transform="rotate(0 444.0 262.6)"/>
<ellipse cx="476.2" cy="250.7" rx="4.0" ry="5.2" fill="#9a8a20" transform="rotate(0 476.2 250.7)"/>
<ellipse cx="481.0" cy="266.3" rx="3.8" ry="5.4" fill="#9a8a20" transform="rotate(0 481.0 266.3)"/>
<ellipse cx="427.3" cy="269.5" rx="6.2" ry="4.4" fill="#9a8a20" transform="rotate(15 427.3 269.5)"/>
<ellipse cx="405.4" cy="269.5" rx="4.4" ry="6.2" fill="#9a8a20" transform="rotate(0 405.4 269.5)"/>
<ellipse cx="435.6" cy="276.8" rx="5.0" ry="4.0" fill="#9a8a20" transform="rotate(0 435.6 276.8)"/>
<ellipse cx="444.0" cy="277.8" rx="3.6" ry="3.6" fill="#9a8a20" transform="rotate(0 444.0 277.8)"/>
<ellipse cx="434.5" cy="251.8" rx="3.6" ry="4.2" fill="#9a8a20" transform="rotate(0 434.5 251.8)"/>
<ellipse cx="404.0" cy="233.0" rx="4.0" ry="3.4" fill="#9a8a20" transform="rotate(0 404.0 233.0)"/>
<ellipse cx="449.0" cy="270.0" rx="3.0" ry="3.0" fill="#9a8a20" transform="rotate(0 449.0 270.0)"/>
</g>
<g filter="url(#irr)">
<ellipse cx="407.5" cy="228.8" rx="6.0" ry="3.1" fill="#f08220" transform="rotate(-15 407.5 228.8)"/>
<ellipse cx="413.0" cy="225.0" rx="2.8" ry="2.5" fill="#ec7820" transform="rotate(0 413.0 225.0)"/>
<ellipse cx="423.0" cy="220.5" rx="4.1" ry="2.2" fill="#ec7020" transform="rotate(25 423.0 220.5)"/>
<ellipse cx="426.2" cy="227.8" rx="2.4" ry="2.7" fill="#ec7020" transform="rotate(0 426.2 227.8)"/>
<ellipse cx="441.8" cy="232.0" rx="3.7" ry="2.5" fill="#e87c20" transform="rotate(-20 441.8 232.0)"/>
<ellipse cx="437.0" cy="228.0" rx="2.3" ry="1.7" fill="#d87820" transform="rotate(0 437.0 228.0)"/>
<ellipse cx="467.3" cy="223.6" rx="2.4" ry="3.1" fill="#e8702a" transform="rotate(0 467.3 223.6)"/>
<ellipse cx="412.7" cy="251.3" rx="2.6" ry="1.9" fill="#e8702a" transform="rotate(0 412.7 251.3)"/>
<ellipse cx="422.0" cy="258.4" rx="3.9" ry="2.9" fill="#f08020" transform="rotate(30 422.0 258.4)"/>
<ellipse cx="444.0" cy="262.6" rx="2.8" ry="2.5" fill="#c06a24" transform="rotate(0 444.0 262.6)"/>
<ellipse cx="476.2" cy="250.7" rx="2.8" ry="3.6" fill="#d8742a" transform="rotate(0 476.2 250.7)"/>
<ellipse cx="481.0" cy="266.3" rx="2.6" ry="3.7" fill="#f0602a" transform="rotate(0 481.0 266.3)"/>
<ellipse cx="427.3" cy="269.5" rx="4.8" ry="2.9" fill="#f0602a" transform="rotate(15 427.3 269.5)"/>
<ellipse cx="405.4" cy="269.5" rx="3.1" ry="4.4" fill="#c8782a" transform="rotate(0 405.4 269.5)"/>
<ellipse cx="435.6" cy="276.8" rx="3.7" ry="2.5" fill="#e87a24" transform="rotate(0 435.6 276.8)"/>
<ellipse cx="444.0" cy="277.8" rx="2.4" ry="2.2" fill="#e87420" transform="rotate(0 444.0 277.8)"/>
<ellipse cx="434.5" cy="251.8" rx="2.4" ry="2.7" fill="#a8802a" transform="rotate(0 434.5 251.8)"/>
<ellipse cx="404.0" cy="233.0" rx="2.8" ry="2.0" fill="#ec7820" transform="rotate(0 404.0 233.0)"/>
<ellipse cx="449.0" cy="270.0" rx="1.8" ry="1.7" fill="#b07a2a" transform="rotate(0 449.0 270.0)"/>
</g>
</g>
<g clip-path="url(#cH1)"><rect x="484" y="211" width="32" height="24" fill="#300808"/><g filter="url(#irr)"><ellipse cx="496.5" cy="221" rx="3.6" ry="5" fill="#e02828" transform="rotate(-20 496.5 221)"/><ellipse cx="499.5" cy="225" rx="2.6" ry="3.6" fill="#d82626"/><ellipse cx="509.5" cy="229" rx="4.5" ry="2.2" fill="#b02020" transform="rotate(25 509.5 229)"/></g></g>
<g clip-path="url(#cH2)"><rect x="484" y="235" width="32" height="24" fill="#2a7a22"/><rect x="484" y="235" width="32" height="24" fill="#0f3a0c" filter="url(#mot2)" opacity="0.4"/></g>
<g clip-path="url(#cH3)"><rect x="484" y="259" width="32" height="24" fill="#2a7a22"/><rect x="484" y="259" width="32" height="24" fill="#0f3a0c" filter="url(#mot2)" opacity="0.4"/><g filter="url(#bl1)"><ellipse cx="494.7" cy="270.5" rx="3" ry="4.5" fill="#e87428" transform="rotate(-15 494.7 270.5)"/><ellipse cx="493" cy="267.5" rx="2" ry="2" fill="#e06a28"/></g></g>
<text x="366.3" y="232.2" fill="#fff" style="font-size:7px">CD8</text>
<text x="366.3" y="256.2" fill="#fff" style="font-size:7px">EpCam</text>
<text x="485.0" y="232.2" fill="#fff" style="font-size:7px">CD8</text>
<text x="485.0" y="256.2" fill="#fff" style="font-size:7px">EpCam</text>
</g>
<g id="panelF">
<text class="p" x="260.3" y="307.5">F</text>
<text class="l" x="430" y="304.5" text-anchor="middle">CD8<tspan dy="-3.6" font-size="8">+</tspan><tspan dy="3.6"> (/mm</tspan><tspan dy="-3.6" font-size="8">2</tspan><tspan dy="3.6">)</tspan></text>
<path class="ax" d="M341.6 367.5V323.8H505.2"/>
<path class="ax" style="stroke-width:1.1" d="M341.6 323.8V321.9"/>
<path class="ax" style="stroke-width:1.1" d="M359.7 323.8V321.9"/>
<path class="ax" style="stroke-width:1.1" d="M377.8 323.8V321.9"/>
<path class="ax" style="stroke-width:1.1" d="M395.9 323.8V321.9"/>
<path class="ax" style="stroke-width:1.1" d="M414.0 323.8V321.9"/>
<path class="ax" style="stroke-width:1.1" d="M432.1 323.8V321.9"/>
<path class="ax" style="stroke-width:1.1" d="M450.2 323.8V321.9"/>
<path class="ax" style="stroke-width:1.1" d="M468.3 323.8V321.9"/>
<path class="ax" style="stroke-width:1.1" d="M486.4 323.8V321.9"/>
<path class="ax" style="stroke-width:1.1" d="M504.5 323.8V321.9"/>
<text class="t" x="341.6" y="319.1" text-anchor="middle">0</text>
<text class="t" x="377.8" y="319.1" text-anchor="middle">20</text>
<text class="t" x="414.0" y="319.1" text-anchor="middle">40</text>
<text class="t" x="450.2" y="319.1" text-anchor="middle">60</text>
<text class="t" x="486.4" y="319.1" text-anchor="middle">80</text>
<rect x="341.8" y="329.2" width="44.2" height="15.2" fill="#fff" stroke="#000" stroke-width="1.5"/>
<path class="ax" style="stroke-width:1.5" d="M386 336.8H398.5M398.5 331.2V342.3"/>
<rect x="341.6" y="350.4" width="120.5" height="16.5" fill="#000"/>
<path class="ax" style="stroke-width:1.5" d="M462 359H490M490 353.6V364.2"/>
<text class="l" x="338.3" y="340.8" text-anchor="end">Low IL-17</text>
<text class="l" x="338.3" y="362.6" text-anchor="end">High IL-17</text>
<text class="t" x="498.2" y="366" text-anchor="middle" style="font-size:13.5px">*</text>
</g>
</svg></body></html>
